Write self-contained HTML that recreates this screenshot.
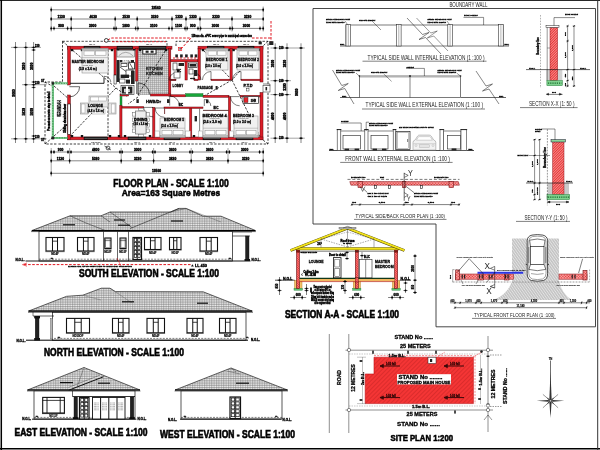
<!DOCTYPE html>
<html lang="en"><head><meta charset="utf-8"><title>House Plan Drawing Sheet</title>
<style>
html,body{margin:0;padding:0;background:#fff;width:600px;height:450px;overflow:hidden}
svg{display:block;will-change:transform;font-family:"Liberation Sans",sans-serif}
</style></head><body>
<svg width="600" height="450" viewBox="0 0 600 450">
<defs>
<pattern id="tile" width="2.4" height="1.8" patternUnits="userSpaceOnUse"><rect width="2.4" height="1.8" fill="#f0f0f0"/><path d="M0 0.4H2.4M0.6 0V1.8" stroke="#6a6a6a" stroke-width="0.45"/></pattern>
<pattern id="rh" width="1.6" height="1.6" patternUnits="userSpaceOnUse" patternTransform="rotate(45)"><rect width="1.6" height="1.6" fill="#ea3434"/><path d="M0 0.4H1.6" stroke="#f7a8a8" stroke-width="0.5"/></pattern>
<pattern id="sh" width="3" height="3" patternUnits="userSpaceOnUse" patternTransform="rotate(-45)"><rect width="3" height="3" fill="#f43535"/><path d="M0 0.5H3" stroke="#c92626" stroke-width="0.6"/></pattern>
<pattern id="xh" width="2" height="2" patternUnits="userSpaceOnUse" patternTransform="rotate(45)"><rect width="2" height="2" fill="#e62e2e"/><path d="M0 0.5H2M0.5 0V2" stroke="#fbd0d0" stroke-width="0.55"/></pattern>
<pattern id="rh2" width="1.8" height="1.8" patternUnits="userSpaceOnUse" patternTransform="rotate(-45)"><rect width="1.8" height="1.8" fill="#e83030"/><path d="M0 0.5H1.8" stroke="#fbc4c4" stroke-width="0.6"/></pattern>
<pattern id="gh" width="2.2" height="2.2" patternUnits="userSpaceOnUse" patternTransform="rotate(55)"><rect width="2.2" height="2.2" fill="#c2c2c2"/><path d="M0 0.5H2.2" stroke="#ececec" stroke-width="0.7"/></pattern>
<pattern id="kt" width="2" height="2" patternUnits="userSpaceOnUse"><rect width="2" height="2" fill="#d9d9d9"/><path d="M0 0.3H2M0.3 0V2" stroke="#8a8a8a" stroke-width="0.5"/></pattern>
</defs>
<rect width="600" height="450" fill="#fff"/>
<line x1="0" y1="0.45" x2="600" y2="0.45" stroke="#000" stroke-width="0.9"/>
<line x1="1.3" y1="0" x2="1.3" y2="450" stroke="#000" stroke-width="1.5"/>
<line x1="0" y1="448.7" x2="600" y2="448.7" stroke="#000" stroke-width="1.5"/>
<line x1="597.7" y1="0" x2="597.7" y2="450" stroke="#333" stroke-width="1"/>
<polygon points="313,8.5 595.5,8.5 595.5,326.8 436,326.8 436,224 313,224" fill="none" stroke="#333" stroke-width="0.9"/>
<line x1="51.2" y1="9.8" x2="263.2" y2="9.8" stroke="#222" stroke-width="0.55"/>
<line x1="51.2" y1="19" x2="263.2" y2="19" stroke="#222" stroke-width="0.55"/>
<line x1="51.2" y1="28.4" x2="263.2" y2="28.4" stroke="#222" stroke-width="0.55"/>
<line x1="51.2" y1="6.5" x2="51.2" y2="31.5" stroke="#333" stroke-width="0.45"/>
<circle cx="51.2" cy="9.8" r="0.95" fill="#000" stroke="none" stroke-width="0.6"/>
<line x1="51.2" y1="7.8" x2="51.2" y2="11.8" stroke="#000" stroke-width="0.6"/>
<circle cx="51.2" cy="19" r="0.95" fill="#000" stroke="none" stroke-width="0.6"/>
<line x1="51.2" y1="17" x2="51.2" y2="21" stroke="#000" stroke-width="0.6"/>
<circle cx="51.2" cy="28.4" r="0.95" fill="#000" stroke="none" stroke-width="0.6"/>
<line x1="51.2" y1="26.4" x2="51.2" y2="30.4" stroke="#000" stroke-width="0.6"/>
<line x1="263.2" y1="6.5" x2="263.2" y2="31.5" stroke="#333" stroke-width="0.45"/>
<circle cx="263.2" cy="9.8" r="0.95" fill="#000" stroke="none" stroke-width="0.6"/>
<line x1="263.2" y1="7.8" x2="263.2" y2="11.8" stroke="#000" stroke-width="0.6"/>
<circle cx="263.2" cy="19" r="0.95" fill="#000" stroke="none" stroke-width="0.6"/>
<line x1="263.2" y1="17" x2="263.2" y2="21" stroke="#000" stroke-width="0.6"/>
<circle cx="263.2" cy="28.4" r="0.95" fill="#000" stroke="none" stroke-width="0.6"/>
<line x1="263.2" y1="26.4" x2="263.2" y2="30.4" stroke="#000" stroke-width="0.6"/>
<text x="156" y="8.8" font-size="3.3" font-weight="bold" text-anchor="middle" stroke="#000" stroke-width="0.35">19560</text>
<line x1="71.2" y1="16" x2="71.2" y2="31.5" stroke="#333" stroke-width="0.45"/>
<circle cx="71.2" cy="19" r="0.95" fill="#000" stroke="none" stroke-width="0.6"/>
<line x1="71.2" y1="17" x2="71.2" y2="21" stroke="#000" stroke-width="0.6"/>
<line x1="115.2" y1="16" x2="115.2" y2="31.5" stroke="#333" stroke-width="0.45"/>
<circle cx="115.2" cy="19" r="0.95" fill="#000" stroke="none" stroke-width="0.6"/>
<line x1="115.2" y1="17" x2="115.2" y2="21" stroke="#000" stroke-width="0.6"/>
<line x1="137.2" y1="16" x2="137.2" y2="31.5" stroke="#333" stroke-width="0.45"/>
<circle cx="137.2" cy="19" r="0.95" fill="#000" stroke="none" stroke-width="0.6"/>
<line x1="137.2" y1="17" x2="137.2" y2="21" stroke="#000" stroke-width="0.6"/>
<line x1="172" y1="16" x2="172" y2="31.5" stroke="#333" stroke-width="0.45"/>
<circle cx="172" cy="19" r="0.95" fill="#000" stroke="none" stroke-width="0.6"/>
<line x1="172" y1="17" x2="172" y2="21" stroke="#000" stroke-width="0.6"/>
<line x1="186" y1="16" x2="186" y2="31.5" stroke="#333" stroke-width="0.45"/>
<circle cx="186" cy="19" r="0.95" fill="#000" stroke="none" stroke-width="0.6"/>
<line x1="186" y1="17" x2="186" y2="21" stroke="#000" stroke-width="0.6"/>
<line x1="200" y1="16" x2="200" y2="31.5" stroke="#333" stroke-width="0.45"/>
<circle cx="200" cy="19" r="0.95" fill="#000" stroke="none" stroke-width="0.6"/>
<line x1="200" y1="17" x2="200" y2="21" stroke="#000" stroke-width="0.6"/>
<line x1="232" y1="16" x2="232" y2="31.5" stroke="#333" stroke-width="0.45"/>
<circle cx="232" cy="19" r="0.95" fill="#000" stroke="none" stroke-width="0.6"/>
<line x1="232" y1="17" x2="232" y2="21" stroke="#000" stroke-width="0.6"/>
<text x="61.2" y="18" font-size="3.3" font-weight="bold" text-anchor="middle" stroke="#000" stroke-width="0.35">1130</text>
<text x="93.2" y="18" font-size="3.3" font-weight="bold" text-anchor="middle" stroke="#000" stroke-width="0.35">4630</text>
<text x="126.2" y="18" font-size="3.3" font-weight="bold" text-anchor="middle" stroke="#000" stroke-width="0.35">2530</text>
<text x="154.6" y="18" font-size="3.3" font-weight="bold" text-anchor="middle" stroke="#000" stroke-width="0.35">3330</text>
<text x="179" y="18" font-size="3.3" font-weight="bold" text-anchor="middle" stroke="#000" stroke-width="0.35">1330</text>
<text x="193" y="18" font-size="3.3" font-weight="bold" text-anchor="middle" stroke="#000" stroke-width="0.35">1330</text>
<text x="216" y="18" font-size="3.3" font-weight="bold" text-anchor="middle" stroke="#000" stroke-width="0.35">3230</text>
<text x="247.6" y="18" font-size="3.3" font-weight="bold" text-anchor="middle" stroke="#000" stroke-width="0.35">3230</text>
<circle cx="54" cy="28.4" r="0.95" fill="#000" stroke="none" stroke-width="0.6"/>
<line x1="54" y1="26.4" x2="54" y2="30.4" stroke="#000" stroke-width="0.6"/>
<circle cx="67.6" cy="28.4" r="0.95" fill="#000" stroke="none" stroke-width="0.6"/>
<line x1="67.6" y1="26.4" x2="67.6" y2="30.4" stroke="#000" stroke-width="0.6"/>
<circle cx="71.2" cy="28.4" r="0.95" fill="#000" stroke="none" stroke-width="0.6"/>
<line x1="71.2" y1="26.4" x2="71.2" y2="30.4" stroke="#000" stroke-width="0.6"/>
<circle cx="114" cy="28.4" r="0.95" fill="#000" stroke="none" stroke-width="0.6"/>
<line x1="114" y1="26.4" x2="114" y2="30.4" stroke="#000" stroke-width="0.6"/>
<circle cx="116.2" cy="28.4" r="0.95" fill="#000" stroke="none" stroke-width="0.6"/>
<line x1="116.2" y1="26.4" x2="116.2" y2="30.4" stroke="#000" stroke-width="0.6"/>
<circle cx="135.6" cy="28.4" r="0.95" fill="#000" stroke="none" stroke-width="0.6"/>
<line x1="135.6" y1="26.4" x2="135.6" y2="30.4" stroke="#000" stroke-width="0.6"/>
<circle cx="138" cy="28.4" r="0.95" fill="#000" stroke="none" stroke-width="0.6"/>
<line x1="138" y1="26.4" x2="138" y2="30.4" stroke="#000" stroke-width="0.6"/>
<circle cx="169" cy="28.4" r="0.95" fill="#000" stroke="none" stroke-width="0.6"/>
<line x1="169" y1="26.4" x2="169" y2="30.4" stroke="#000" stroke-width="0.6"/>
<circle cx="172" cy="28.4" r="0.95" fill="#000" stroke="none" stroke-width="0.6"/>
<line x1="172" y1="26.4" x2="172" y2="30.4" stroke="#000" stroke-width="0.6"/>
<circle cx="185" cy="28.4" r="0.95" fill="#000" stroke="none" stroke-width="0.6"/>
<line x1="185" y1="26.4" x2="185" y2="30.4" stroke="#000" stroke-width="0.6"/>
<circle cx="187.2" cy="28.4" r="0.95" fill="#000" stroke="none" stroke-width="0.6"/>
<line x1="187.2" y1="26.4" x2="187.2" y2="30.4" stroke="#000" stroke-width="0.6"/>
<circle cx="198" cy="28.4" r="0.95" fill="#000" stroke="none" stroke-width="0.6"/>
<line x1="198" y1="26.4" x2="198" y2="30.4" stroke="#000" stroke-width="0.6"/>
<circle cx="200.6" cy="28.4" r="0.95" fill="#000" stroke="none" stroke-width="0.6"/>
<line x1="200.6" y1="26.4" x2="200.6" y2="30.4" stroke="#000" stroke-width="0.6"/>
<circle cx="230" cy="28.4" r="0.95" fill="#000" stroke="none" stroke-width="0.6"/>
<line x1="230" y1="26.4" x2="230" y2="30.4" stroke="#000" stroke-width="0.6"/>
<circle cx="232.4" cy="28.4" r="0.95" fill="#000" stroke="none" stroke-width="0.6"/>
<line x1="232.4" y1="26.4" x2="232.4" y2="30.4" stroke="#000" stroke-width="0.6"/>
<circle cx="260" cy="28.4" r="0.95" fill="#000" stroke="none" stroke-width="0.6"/>
<line x1="260" y1="26.4" x2="260" y2="30.4" stroke="#000" stroke-width="0.6"/>
<text x="61" y="27.4" font-size="3.3" font-weight="bold" text-anchor="middle" stroke="#000" stroke-width="0.35">900</text>
<text x="92.6" y="27.4" font-size="3.3" font-weight="bold" text-anchor="middle" stroke="#000" stroke-width="0.35">3900</text>
<text x="126" y="27.4" font-size="3.3" font-weight="bold" text-anchor="middle" stroke="#000" stroke-width="0.35">1800</text>
<text x="153.6" y="27.4" font-size="3.3" font-weight="bold" text-anchor="middle" stroke="#000" stroke-width="0.35">3100</text>
<text x="178.6" y="27.4" font-size="3.3" font-weight="bold" text-anchor="middle" stroke="#000" stroke-width="0.35">1100</text>
<text x="192.8" y="27.4" font-size="3.3" font-weight="bold" text-anchor="middle" stroke="#000" stroke-width="0.35">900</text>
<text x="215.4" y="27.4" font-size="3.3" font-weight="bold" text-anchor="middle" stroke="#000" stroke-width="0.35">3000</text>
<text x="246.4" y="27.4" font-size="3.3" font-weight="bold" text-anchor="middle" stroke="#000" stroke-width="0.35">3000</text>
<line x1="51.2" y1="152" x2="263.2" y2="152" stroke="#222" stroke-width="0.55"/>
<line x1="51.2" y1="160.8" x2="263.2" y2="160.8" stroke="#222" stroke-width="0.55"/>
<line x1="51.2" y1="173.3" x2="263.2" y2="173.3" stroke="#222" stroke-width="0.55"/>
<line x1="51.2" y1="148" x2="51.2" y2="176.5" stroke="#333" stroke-width="0.45"/>
<circle cx="51.2" cy="152" r="0.95" fill="#000" stroke="none" stroke-width="0.6"/>
<line x1="51.2" y1="150" x2="51.2" y2="154" stroke="#000" stroke-width="0.6"/>
<circle cx="51.2" cy="160.8" r="0.95" fill="#000" stroke="none" stroke-width="0.6"/>
<line x1="51.2" y1="158.8" x2="51.2" y2="162.8" stroke="#000" stroke-width="0.6"/>
<circle cx="51.2" cy="173.3" r="0.95" fill="#000" stroke="none" stroke-width="0.6"/>
<line x1="51.2" y1="171.3" x2="51.2" y2="175.3" stroke="#000" stroke-width="0.6"/>
<line x1="263.2" y1="148" x2="263.2" y2="176.5" stroke="#333" stroke-width="0.45"/>
<circle cx="263.2" cy="152" r="0.95" fill="#000" stroke="none" stroke-width="0.6"/>
<line x1="263.2" y1="150" x2="263.2" y2="154" stroke="#000" stroke-width="0.6"/>
<circle cx="263.2" cy="160.8" r="0.95" fill="#000" stroke="none" stroke-width="0.6"/>
<line x1="263.2" y1="158.8" x2="263.2" y2="162.8" stroke="#000" stroke-width="0.6"/>
<circle cx="263.2" cy="173.3" r="0.95" fill="#000" stroke="none" stroke-width="0.6"/>
<line x1="263.2" y1="171.3" x2="263.2" y2="175.3" stroke="#000" stroke-width="0.6"/>
<circle cx="54" cy="152" r="0.95" fill="#000" stroke="none" stroke-width="0.6"/>
<line x1="54" y1="150" x2="54" y2="154" stroke="#000" stroke-width="0.6"/>
<circle cx="68" cy="152" r="0.95" fill="#000" stroke="none" stroke-width="0.6"/>
<line x1="68" y1="150" x2="68" y2="154" stroke="#000" stroke-width="0.6"/>
<circle cx="71" cy="152" r="0.95" fill="#000" stroke="none" stroke-width="0.6"/>
<line x1="71" y1="150" x2="71" y2="154" stroke="#000" stroke-width="0.6"/>
<circle cx="120" cy="152" r="0.95" fill="#000" stroke="none" stroke-width="0.6"/>
<line x1="120" y1="150" x2="120" y2="154" stroke="#000" stroke-width="0.6"/>
<circle cx="122.2" cy="152" r="0.95" fill="#000" stroke="none" stroke-width="0.6"/>
<line x1="122.2" y1="150" x2="122.2" y2="154" stroke="#000" stroke-width="0.6"/>
<circle cx="152.6" cy="152" r="0.95" fill="#000" stroke="none" stroke-width="0.6"/>
<line x1="152.6" y1="150" x2="152.6" y2="154" stroke="#000" stroke-width="0.6"/>
<circle cx="155" cy="152" r="0.95" fill="#000" stroke="none" stroke-width="0.6"/>
<line x1="155" y1="150" x2="155" y2="154" stroke="#000" stroke-width="0.6"/>
<circle cx="190" cy="152" r="0.95" fill="#000" stroke="none" stroke-width="0.6"/>
<line x1="190" y1="150" x2="190" y2="154" stroke="#000" stroke-width="0.6"/>
<circle cx="192.4" cy="152" r="0.95" fill="#000" stroke="none" stroke-width="0.6"/>
<line x1="192.4" y1="150" x2="192.4" y2="154" stroke="#000" stroke-width="0.6"/>
<circle cx="226.6" cy="152" r="0.95" fill="#000" stroke="none" stroke-width="0.6"/>
<line x1="226.6" y1="150" x2="226.6" y2="154" stroke="#000" stroke-width="0.6"/>
<circle cx="229.4" cy="152" r="0.95" fill="#000" stroke="none" stroke-width="0.6"/>
<line x1="229.4" y1="150" x2="229.4" y2="154" stroke="#000" stroke-width="0.6"/>
<circle cx="259.6" cy="152" r="0.95" fill="#000" stroke="none" stroke-width="0.6"/>
<line x1="259.6" y1="150" x2="259.6" y2="154" stroke="#000" stroke-width="0.6"/>
<text x="60.6" y="151" font-size="3.3" font-weight="bold" text-anchor="middle" stroke="#000" stroke-width="0.35">900</text>
<text x="95.6" y="151" font-size="3.3" font-weight="bold" text-anchor="middle" stroke="#000" stroke-width="0.35">4800</text>
<text x="137.6" y="151" font-size="3.3" font-weight="bold" text-anchor="middle" stroke="#000" stroke-width="0.35">3000</text>
<text x="172.6" y="151" font-size="3.3" font-weight="bold" text-anchor="middle" stroke="#000" stroke-width="0.35">3600</text>
<text x="209.6" y="151" font-size="3.3" font-weight="bold" text-anchor="middle" stroke="#000" stroke-width="0.35">3600</text>
<text x="244.6" y="151" font-size="3.3" font-weight="bold" text-anchor="middle" stroke="#000" stroke-width="0.35">3000</text>
<line x1="69.6" y1="148" x2="69.6" y2="164" stroke="#333" stroke-width="0.45"/>
<circle cx="69.6" cy="160.8" r="0.95" fill="#000" stroke="none" stroke-width="0.6"/>
<line x1="69.6" y1="158.8" x2="69.6" y2="162.8" stroke="#000" stroke-width="0.6"/>
<line x1="121.2" y1="148" x2="121.2" y2="164" stroke="#333" stroke-width="0.45"/>
<circle cx="121.2" cy="160.8" r="0.95" fill="#000" stroke="none" stroke-width="0.6"/>
<line x1="121.2" y1="158.8" x2="121.2" y2="162.8" stroke="#000" stroke-width="0.6"/>
<line x1="153.6" y1="148" x2="153.6" y2="164" stroke="#333" stroke-width="0.45"/>
<circle cx="153.6" cy="160.8" r="0.95" fill="#000" stroke="none" stroke-width="0.6"/>
<line x1="153.6" y1="158.8" x2="153.6" y2="162.8" stroke="#000" stroke-width="0.6"/>
<line x1="191.2" y1="148" x2="191.2" y2="164" stroke="#333" stroke-width="0.45"/>
<circle cx="191.2" cy="160.8" r="0.95" fill="#000" stroke="none" stroke-width="0.6"/>
<line x1="191.2" y1="158.8" x2="191.2" y2="162.8" stroke="#000" stroke-width="0.6"/>
<line x1="228" y1="148" x2="228" y2="164" stroke="#333" stroke-width="0.45"/>
<circle cx="228" cy="160.8" r="0.95" fill="#000" stroke="none" stroke-width="0.6"/>
<line x1="228" y1="158.8" x2="228" y2="162.8" stroke="#000" stroke-width="0.6"/>
<text x="60.4" y="159.8" font-size="3.3" font-weight="bold" text-anchor="middle" stroke="#000" stroke-width="0.35">1130</text>
<text x="95.6" y="159.8" font-size="3.3" font-weight="bold" text-anchor="middle" stroke="#000" stroke-width="0.35">5030</text>
<text x="137.6" y="159.8" font-size="3.3" font-weight="bold" text-anchor="middle" stroke="#000" stroke-width="0.35">3230</text>
<text x="172.6" y="159.8" font-size="3.3" font-weight="bold" text-anchor="middle" stroke="#000" stroke-width="0.35">3830</text>
<text x="209.6" y="159.8" font-size="3.3" font-weight="bold" text-anchor="middle" stroke="#000" stroke-width="0.35">3830</text>
<text x="245.6" y="159.8" font-size="3.3" font-weight="bold" text-anchor="middle" stroke="#000" stroke-width="0.35">3230</text>
<text x="156.5" y="172.3" font-size="3.3" font-weight="bold" text-anchor="middle" stroke="#000" stroke-width="0.35">19560</text>
<line x1="15.5" y1="42" x2="15.5" y2="143" stroke="#222" stroke-width="0.55"/>
<line x1="25.8" y1="42" x2="25.8" y2="143" stroke="#222" stroke-width="0.55"/>
<line x1="33.6" y1="42" x2="33.6" y2="143" stroke="#222" stroke-width="0.55"/>
<line x1="11" y1="47.4" x2="41" y2="47.4" stroke="#333" stroke-width="0.45"/>
<circle cx="15.5" cy="47.4" r="0.95" fill="#000" stroke="none" stroke-width="0.6"/>
<line x1="13.5" y1="47.4" x2="17.5" y2="47.4" stroke="#000" stroke-width="0.6"/>
<circle cx="25.8" cy="47.4" r="0.95" fill="#000" stroke="none" stroke-width="0.6"/>
<line x1="23.8" y1="47.4" x2="27.8" y2="47.4" stroke="#000" stroke-width="0.6"/>
<circle cx="33.6" cy="47.4" r="0.95" fill="#000" stroke="none" stroke-width="0.6"/>
<line x1="31.6" y1="47.4" x2="35.6" y2="47.4" stroke="#000" stroke-width="0.6"/>
<line x1="11" y1="138.8" x2="46.7" y2="138.8" stroke="#333" stroke-width="0.45"/>
<circle cx="15.5" cy="138.8" r="0.95" fill="#000" stroke="none" stroke-width="0.6"/>
<line x1="13.5" y1="138.8" x2="17.5" y2="138.8" stroke="#000" stroke-width="0.6"/>
<circle cx="25.8" cy="138.8" r="0.95" fill="#000" stroke="none" stroke-width="0.6"/>
<line x1="23.8" y1="138.8" x2="27.8" y2="138.8" stroke="#000" stroke-width="0.6"/>
<circle cx="33.6" cy="138.8" r="0.95" fill="#000" stroke="none" stroke-width="0.6"/>
<line x1="31.6" y1="138.8" x2="35.6" y2="138.8" stroke="#000" stroke-width="0.6"/>
<line x1="22" y1="84.7" x2="46.7" y2="84.7" stroke="#333" stroke-width="0.45"/>
<circle cx="25.8" cy="84.7" r="0.95" fill="#000" stroke="none" stroke-width="0.6"/>
<line x1="23.8" y1="84.7" x2="27.8" y2="84.7" stroke="#000" stroke-width="0.6"/>
<circle cx="33.6" cy="84.7" r="0.95" fill="#000" stroke="none" stroke-width="0.6"/>
<line x1="31.6" y1="84.7" x2="35.6" y2="84.7" stroke="#000" stroke-width="0.6"/>
<circle cx="33.6" cy="50" r="0.95" fill="#000" stroke="none" stroke-width="0.6"/>
<line x1="31.6" y1="50" x2="35.6" y2="50" stroke="#000" stroke-width="0.6"/>
<circle cx="33.6" cy="82" r="0.95" fill="#000" stroke="none" stroke-width="0.6"/>
<line x1="31.6" y1="82" x2="35.6" y2="82" stroke="#000" stroke-width="0.6"/>
<circle cx="33.6" cy="87.4" r="0.95" fill="#000" stroke="none" stroke-width="0.6"/>
<line x1="31.6" y1="87.4" x2="35.6" y2="87.4" stroke="#000" stroke-width="0.6"/>
<circle cx="33.6" cy="136" r="0.95" fill="#000" stroke="none" stroke-width="0.6"/>
<line x1="31.6" y1="136" x2="35.6" y2="136" stroke="#000" stroke-width="0.6"/>
<text x="14.6" y="93" font-size="3.3" font-weight="bold" text-anchor="middle" transform="rotate(-90 14.6 93)" stroke="#000" stroke-width="0.35">9660</text>
<text x="24.8" y="66.4" font-size="3.3" font-weight="bold" text-anchor="middle" transform="rotate(-90 24.8 66.4)" stroke="#000" stroke-width="0.35">3830</text>
<text x="24.8" y="111.8" font-size="3.3" font-weight="bold" text-anchor="middle" transform="rotate(-90 24.8 111.8)" stroke="#000" stroke-width="0.35">5830</text>
<text x="32.8" y="66.4" font-size="3.3" font-weight="bold" text-anchor="middle" transform="rotate(-90 32.8 66.4)" stroke="#000" stroke-width="0.35">3600</text>
<text x="32.8" y="111.8" font-size="3.3" font-weight="bold" text-anchor="middle" transform="rotate(-90 32.8 111.8)" stroke="#000" stroke-width="0.35">5600</text>
<text x="35" y="46.6" font-size="2.6" font-weight="bold" stroke="#000" stroke-width="0.3">230</text>
<text x="35" y="84" font-size="2.6" font-weight="bold" stroke="#000" stroke-width="0.3">230</text>
<text x="35" y="138" font-size="2.6" font-weight="bold" stroke="#000" stroke-width="0.3">230</text>
<line x1="275.2" y1="43.3" x2="275.2" y2="143" stroke="#222" stroke-width="0.55"/>
<line x1="287" y1="43.3" x2="287" y2="143" stroke="#222" stroke-width="0.55"/>
<line x1="301" y1="43.3" x2="301" y2="143" stroke="#222" stroke-width="0.55"/>
<line x1="270.5" y1="48" x2="304.8" y2="48" stroke="#333" stroke-width="0.45"/>
<circle cx="275.2" cy="48" r="0.95" fill="#000" stroke="none" stroke-width="0.6"/>
<line x1="273.2" y1="48" x2="277.2" y2="48" stroke="#000" stroke-width="0.6"/>
<circle cx="287" cy="48" r="0.95" fill="#000" stroke="none" stroke-width="0.6"/>
<line x1="285" y1="48" x2="289" y2="48" stroke="#000" stroke-width="0.6"/>
<circle cx="301" cy="48" r="0.95" fill="#000" stroke="none" stroke-width="0.6"/>
<line x1="299" y1="48" x2="303" y2="48" stroke="#000" stroke-width="0.6"/>
<line x1="270.5" y1="138.2" x2="304.8" y2="138.2" stroke="#333" stroke-width="0.45"/>
<circle cx="275.2" cy="138.2" r="0.95" fill="#000" stroke="none" stroke-width="0.6"/>
<line x1="273.2" y1="138.2" x2="277.2" y2="138.2" stroke="#000" stroke-width="0.6"/>
<circle cx="287" cy="138.2" r="0.95" fill="#000" stroke="none" stroke-width="0.6"/>
<line x1="285" y1="138.2" x2="289" y2="138.2" stroke="#000" stroke-width="0.6"/>
<circle cx="301" cy="138.2" r="0.95" fill="#000" stroke="none" stroke-width="0.6"/>
<line x1="299" y1="138.2" x2="303" y2="138.2" stroke="#000" stroke-width="0.6"/>
<line x1="270.5" y1="80.7" x2="291" y2="80.7" stroke="#333" stroke-width="0.45"/>
<circle cx="275.2" cy="80.7" r="0.95" fill="#000" stroke="none" stroke-width="0.6"/>
<line x1="273.2" y1="80.7" x2="277.2" y2="80.7" stroke="#000" stroke-width="0.6"/>
<circle cx="287" cy="80.7" r="0.95" fill="#000" stroke="none" stroke-width="0.6"/>
<line x1="285" y1="80.7" x2="289" y2="80.7" stroke="#000" stroke-width="0.6"/>
<line x1="270.5" y1="94.6" x2="291" y2="94.6" stroke="#333" stroke-width="0.45"/>
<circle cx="275.2" cy="94.6" r="0.95" fill="#000" stroke="none" stroke-width="0.6"/>
<line x1="273.2" y1="94.6" x2="277.2" y2="94.6" stroke="#000" stroke-width="0.6"/>
<circle cx="287" cy="94.6" r="0.95" fill="#000" stroke="none" stroke-width="0.6"/>
<line x1="285" y1="94.6" x2="289" y2="94.6" stroke="#000" stroke-width="0.6"/>
<text x="274.2" y="63.6" font-size="3.3" font-weight="bold" text-anchor="middle" transform="rotate(-90 274.2 63.6)" stroke="#000" stroke-width="0.35">3600</text>
<text x="286.2" y="63.6" font-size="3.3" font-weight="bold" text-anchor="middle" transform="rotate(-90 286.2 63.6)" stroke="#000" stroke-width="0.35">3830</text>
<text x="274.2" y="116.4" font-size="3.3" font-weight="bold" text-anchor="middle" transform="rotate(-90 274.2 116.4)" stroke="#000" stroke-width="0.35">4800</text>
<text x="286.2" y="116.4" font-size="3.3" font-weight="bold" text-anchor="middle" transform="rotate(-90 286.2 116.4)" stroke="#000" stroke-width="0.35">4800</text>
<text x="286.2" y="87" font-size="3.3" font-weight="bold" text-anchor="middle" transform="rotate(-90 286.2 87)" stroke="#000" stroke-width="0.35">1200</text>
<text x="298.4" y="92.2" font-size="3.3" font-weight="bold" text-anchor="middle" transform="rotate(-90 298.4 92.2)" stroke="#000" stroke-width="0.35">9660</text>
<text x="279" y="49" font-size="2.6" font-weight="bold" stroke="#000" stroke-width="0.3">230</text>
<text x="279" y="81.7" font-size="2.6" font-weight="bold" stroke="#000" stroke-width="0.3">230</text>
<text x="279" y="95.6" font-size="2.6" font-weight="bold" stroke="#000" stroke-width="0.3">230</text>
<text x="279" y="139.2" font-size="2.6" font-weight="bold" stroke="#000" stroke-width="0.3">230</text>
<polyline points="62.5,41.3 167,41.3 167,46" fill="none" stroke="#000" stroke-width="0.7" stroke-dasharray="2.4 1.4"/>
<polyline points="176,46 176,41.3 268,41.3 268,144 57,144" fill="none" stroke="#000" stroke-width="0.75" stroke-dasharray="2.4 1.4"/>
<polyline points="62.5,41.3 62.5,82 45,82 45,144 57,144" fill="none" stroke="#000" stroke-width="0.75" stroke-dasharray="2.4 1.4"/>
<line x1="62.5" y1="41.3" x2="68" y2="46" stroke="#000" stroke-width="0.75" stroke-dasharray="2.4 1.4"/>
<line x1="268" y1="41.3" x2="263" y2="46" stroke="#000" stroke-width="0.75" stroke-dasharray="2.4 1.4"/>
<line x1="268" y1="144" x2="263" y2="140" stroke="#000" stroke-width="0.75" stroke-dasharray="2.4 1.4"/>
<line x1="45" y1="144" x2="52" y2="138" stroke="#000" stroke-width="0.75" stroke-dasharray="2.4 1.4"/>
<line x1="45" y1="82" x2="52" y2="86" stroke="#000" stroke-width="0.75" stroke-dasharray="2.4 1.4"/>
<line x1="70" y1="48" x2="116" y2="88" stroke="#000" stroke-width="0.75" stroke-dasharray="2.4 1.4"/>
<line x1="116" y1="88" x2="70" y2="136" stroke="#000" stroke-width="0.75" stroke-dasharray="2.4 1.4"/>
<line x1="54" y1="86" x2="70" y2="100" stroke="#000" stroke-width="0.75" stroke-dasharray="2.4 1.4"/>
<line x1="54" y1="136" x2="70" y2="122" stroke="#000" stroke-width="0.75" stroke-dasharray="2.4 1.4"/>
<line x1="108" y1="46" x2="108" y2="138" stroke="#000" stroke-width="0.75" stroke-dasharray="2.4 1.4"/>
<line x1="116" y1="88" x2="128" y2="97" stroke="#000" stroke-width="0.75" stroke-dasharray="2.4 1.4"/>
<line x1="167" y1="48" x2="138" y2="97" stroke="#000" stroke-width="0.75" stroke-dasharray="2.4 1.4"/>
<line x1="138" y1="97" x2="128" y2="104" stroke="#000" stroke-width="0.75" stroke-dasharray="2.4 1.4"/>
<line x1="201" y1="48" x2="232" y2="80" stroke="#000" stroke-width="0.75" stroke-dasharray="2.4 1.4"/>
<line x1="232" y1="80" x2="260" y2="137" stroke="#000" stroke-width="0.75" stroke-dasharray="2.4 1.4"/>
<line x1="260" y1="48" x2="232" y2="80" stroke="#000" stroke-width="0.75" stroke-dasharray="2.4 1.4"/>
<line x1="232" y1="80" x2="204" y2="96" stroke="#000" stroke-width="0.75" stroke-dasharray="2.4 1.4"/>
<rect x="138" y="48" width="31.5" height="47" fill="url(#kt)" stroke="none" stroke-width="0.7"/>
<line x1="138" y1="95" x2="167" y2="48" stroke="#000" stroke-width="0.75" stroke-dasharray="2.4 1.4"/>
<rect x="67.6" y="46.2" width="104.4" height="3" fill="#dc1e28" stroke="#5c0a0e" stroke-width="0.5"/>
<rect x="198" y="46.2" width="65" height="3" fill="#dc1e28" stroke="#5c0a0e" stroke-width="0.5"/>
<rect x="260" y="46.2" width="3" height="35.8" fill="#dc1e28" stroke="#5c0a0e" stroke-width="0.5"/>
<rect x="260" y="92.5" width="3" height="47.3" fill="#dc1e28" stroke="#5c0a0e" stroke-width="0.5"/>
<rect x="67.6" y="137" width="195.4" height="2.8" fill="#dc1e28" stroke="#5c0a0e" stroke-width="0.5"/>
<rect x="67.6" y="46.2" width="2.8" height="38.8" fill="#dc1e28" stroke="#5c0a0e" stroke-width="0.5"/>
<rect x="67.6" y="95" width="2.8" height="44.8" fill="#dc1e28" stroke="#5c0a0e" stroke-width="0.5"/>
<rect x="114" y="48.5" width="2.2" height="26.5" fill="#dc1e28" stroke="#5c0a0e" stroke-width="0.5"/>
<rect x="114" y="75" width="2.2" height="9" fill="#fff" stroke="#111" stroke-width="0.55"/>
<rect x="135.6" y="48.5" width="2.3" height="32.5" fill="#dc1e28" stroke="#5c0a0e" stroke-width="0.5"/>
<line x1="136.8" y1="81" x2="136.8" y2="94" stroke="#222" stroke-width="0.8"/>
<rect x="168.6" y="48.5" width="2.2" height="47.5" fill="#dc1e28" stroke="#5c0a0e" stroke-width="0.5"/>
<rect x="170.8" y="59.6" width="27.2" height="2.2" fill="#dc1e28" stroke="#5c0a0e" stroke-width="0.5"/>
<rect x="185" y="61.8" width="2.2" height="18.2" fill="#dc1e28" stroke="#5c0a0e" stroke-width="0.5"/>
<rect x="198" y="48.5" width="2.3" height="31.5" fill="#dc1e28" stroke="#5c0a0e" stroke-width="0.5"/>
<rect x="230" y="48.5" width="2.2" height="31.5" fill="#dc1e28" stroke="#5c0a0e" stroke-width="0.5"/>
<rect x="150.5" y="94" width="20.3" height="2" fill="#dc1e28" stroke="#5c0a0e" stroke-width="0.5"/>
<rect x="120" y="94" width="8.7" height="2" fill="#dc1e28" stroke="#5c0a0e" stroke-width="0.5"/>
<rect x="170.8" y="94.8" width="14.9" height="2" fill="#dc1e28" stroke="#5c0a0e" stroke-width="0.5"/>
<rect x="203" y="95.3" width="26" height="2" fill="#dc1e28" stroke="#5c0a0e" stroke-width="0.5"/>
<rect x="240.3" y="95.3" width="20.2" height="1.7" fill="#dc1e28" stroke="#5c0a0e" stroke-width="0.5"/>
<rect x="185.7" y="93.6" width="17.3" height="3" fill="#19a63a" stroke="#0c5b1e" stroke-width="0.4"/>
<rect x="120" y="96.4" width="2" height="9.2" fill="#19a63a" stroke="#0c5b1e" stroke-width="0.4"/>
<rect x="211" y="79.2" width="19" height="1.4" fill="#dc1e28" stroke="#5c0a0e" stroke-width="0.5"/>
<rect x="241" y="79.2" width="19.5" height="1.4" fill="#dc1e28" stroke="#5c0a0e" stroke-width="0.5"/>
<rect x="170.8" y="79.2" width="5.2" height="1.4" fill="#dc1e28" stroke="#5c0a0e" stroke-width="0.5"/>
<rect x="194" y="79.2" width="4" height="1.4" fill="#dc1e28" stroke="#5c0a0e" stroke-width="0.5"/>
<rect x="119.8" y="105.6" width="2.2" height="31.9" fill="#dc1e28" stroke="#5c0a0e" stroke-width="0.5"/>
<rect x="152.7" y="107.4" width="2.2" height="30.1" fill="#dc1e28" stroke="#5c0a0e" stroke-width="0.5"/>
<rect x="189.6" y="107.4" width="2.2" height="30.1" fill="#dc1e28" stroke="#5c0a0e" stroke-width="0.5"/>
<rect x="228.4" y="96.6" width="2.2" height="40.9" fill="#dc1e28" stroke="#5c0a0e" stroke-width="0.5"/>
<rect x="164" y="107" width="39" height="1.4" fill="#dc1e28" stroke="#5c0a0e" stroke-width="0.5"/>
<line x1="203" y1="110.4" x2="228.4" y2="110.4" stroke="#3a0a0a" stroke-width="0.8"/>
<rect x="122" y="106.6" width="21.7" height="1.5" fill="#dc1e28" stroke="#5c0a0e" stroke-width="0.5"/>
<line x1="164.6" y1="108.7" x2="164.6" y2="114" stroke="#5c0a0e" stroke-width="0.8"/>
<line x1="199.6" y1="108.7" x2="199.6" y2="137" stroke="#000" stroke-width="0.5"/>
<line x1="70" y1="83.3" x2="104" y2="83.3" stroke="#222" stroke-width="1"/>
<line x1="104" y1="83.3" x2="104" y2="78" stroke="#000" stroke-width="0.5"/>
<rect x="84" y="46.2" width="16" height="3" fill="#1c1c1c" stroke="#000" stroke-width="0.5"/>
<line x1="84.5" y1="47.7" x2="99.5" y2="47.7" stroke="#9a9a9a" stroke-width="0.45"/>
<rect x="139" y="46.2" width="27" height="3" fill="#1c1c1c" stroke="#000" stroke-width="0.5"/>
<line x1="139.5" y1="47.7" x2="165.5" y2="47.7" stroke="#9a9a9a" stroke-width="0.45"/>
<rect x="207.5" y="46.2" width="16.5" height="3" fill="#1c1c1c" stroke="#000" stroke-width="0.5"/>
<line x1="208" y1="47.7" x2="223.5" y2="47.7" stroke="#9a9a9a" stroke-width="0.45"/>
<rect x="238" y="46.2" width="16" height="3" fill="#1c1c1c" stroke="#000" stroke-width="0.5"/>
<line x1="238.5" y1="47.7" x2="253.5" y2="47.7" stroke="#9a9a9a" stroke-width="0.45"/>
<rect x="84" y="137" width="23.5" height="2.8" fill="#1c1c1c" stroke="#000" stroke-width="0.5"/>
<line x1="84.5" y1="138.4" x2="107" y2="138.4" stroke="#9a9a9a" stroke-width="0.45"/>
<rect x="128" y="137" width="18" height="2.8" fill="#1c1c1c" stroke="#000" stroke-width="0.5"/>
<line x1="128.5" y1="138.4" x2="145.5" y2="138.4" stroke="#9a9a9a" stroke-width="0.45"/>
<rect x="164" y="137" width="16" height="2.8" fill="#1c1c1c" stroke="#000" stroke-width="0.5"/>
<line x1="164.5" y1="138.4" x2="179.5" y2="138.4" stroke="#9a9a9a" stroke-width="0.45"/>
<rect x="203" y="137" width="17.5" height="2.8" fill="#1c1c1c" stroke="#000" stroke-width="0.5"/>
<line x1="203.5" y1="138.4" x2="220" y2="138.4" stroke="#9a9a9a" stroke-width="0.45"/>
<rect x="236" y="137" width="17" height="2.8" fill="#1c1c1c" stroke="#000" stroke-width="0.5"/>
<line x1="236.5" y1="138.4" x2="252.5" y2="138.4" stroke="#9a9a9a" stroke-width="0.45"/>
<rect x="67.8" y="104" width="2.6" height="30.4" fill="#fff" stroke="#111" stroke-width="0.6"/>
<rect x="117" y="46.2" width="15.7" height="3" fill="#1c1c1c" stroke="#000" stroke-width="0.5"/>
<line x1="117.5" y1="47.7" x2="132.2" y2="47.7" stroke="#9a9a9a" stroke-width="0.45"/>
<rect x="70.8" y="49" width="2.4" height="2.2" fill="#111" stroke="none" stroke-width="0.7"/>
<rect x="80.8" y="49" width="2.4" height="2.2" fill="#111" stroke="none" stroke-width="0.7"/>
<rect x="100.8" y="49" width="2.4" height="2.2" fill="#111" stroke="none" stroke-width="0.7"/>
<rect x="110.8" y="49" width="2.4" height="2.2" fill="#111" stroke="none" stroke-width="0.7"/>
<rect x="116.8" y="49" width="2.4" height="2.2" fill="#111" stroke="none" stroke-width="0.7"/>
<rect x="132.8" y="49" width="2.4" height="2.2" fill="#111" stroke="none" stroke-width="0.7"/>
<rect x="138.8" y="49" width="2.4" height="2.2" fill="#111" stroke="none" stroke-width="0.7"/>
<rect x="164.8" y="49" width="2.4" height="2.2" fill="#111" stroke="none" stroke-width="0.7"/>
<rect x="201.8" y="49" width="2.4" height="2.2" fill="#111" stroke="none" stroke-width="0.7"/>
<rect x="227.4" y="49" width="2.4" height="2.2" fill="#111" stroke="none" stroke-width="0.7"/>
<rect x="232.4" y="49" width="2.4" height="2.2" fill="#111" stroke="none" stroke-width="0.7"/>
<rect x="257.4" y="49" width="2.4" height="2.2" fill="#111" stroke="none" stroke-width="0.7"/>
<rect x="70.8" y="135" width="2.4" height="2.2" fill="#111" stroke="none" stroke-width="0.7"/>
<rect x="80.8" y="135" width="2.4" height="2.2" fill="#111" stroke="none" stroke-width="0.7"/>
<rect x="108.8" y="135" width="2.4" height="2.2" fill="#111" stroke="none" stroke-width="0.7"/>
<rect x="117.8" y="135" width="2.4" height="2.2" fill="#111" stroke="none" stroke-width="0.7"/>
<rect x="123.8" y="135" width="2.4" height="2.2" fill="#111" stroke="none" stroke-width="0.7"/>
<rect x="148.8" y="135" width="2.4" height="2.2" fill="#111" stroke="none" stroke-width="0.7"/>
<rect x="155.8" y="135" width="2.4" height="2.2" fill="#111" stroke="none" stroke-width="0.7"/>
<rect x="185.8" y="135" width="2.4" height="2.2" fill="#111" stroke="none" stroke-width="0.7"/>
<rect x="192.8" y="135" width="2.4" height="2.2" fill="#111" stroke="none" stroke-width="0.7"/>
<rect x="224.8" y="135" width="2.4" height="2.2" fill="#111" stroke="none" stroke-width="0.7"/>
<rect x="231.8" y="135" width="2.4" height="2.2" fill="#111" stroke="none" stroke-width="0.7"/>
<rect x="255.8" y="135" width="2.4" height="2.2" fill="#111" stroke="none" stroke-width="0.7"/>
<text x="92" y="45" font-size="2.4" text-anchor="middle">ND4F</text>
<text x="149" y="45" font-size="2.4" text-anchor="middle">ND4F</text>
<text x="216" y="45" font-size="2.4" text-anchor="middle">ND4F</text>
<text x="246" y="45" font-size="2.4" text-anchor="middle">ND4F</text>
<text x="96" y="143.2" font-size="2.4" text-anchor="middle">ND1OOF</text>
<text x="137" y="143.2" font-size="2.4" text-anchor="middle">ND4F</text>
<text x="172" y="143.2" font-size="2.4" text-anchor="middle">ND4F</text>
<text x="212" y="143.2" font-size="2.4" text-anchor="middle">ND4F</text>
<text x="244.5" y="143.2" font-size="2.4" text-anchor="middle">ND4F</text>
<polyline points="67.6,83.4 52.8,83.4 52.8,137.9 67.6,137.9" fill="none" stroke="#16a23a" stroke-width="1.9"/>
<polyline points="67.6,83.4 52.8,83.4 52.8,137.9 67.6,137.9" fill="none" stroke="#eafbea" stroke-width="0.7"/>
<polyline points="67.6,83.4 52.8,83.4 52.8,137.9 67.6,137.9" fill="none" stroke="#0a4a18" stroke-width="0.5" stroke-dasharray="1.4 1.2"/>
<rect x="51.4" y="136.6" width="2.8" height="2.8" fill="#222" stroke="none" stroke-width="0.7"/>
<rect x="51.6" y="82.2" width="2.4" height="2.4" fill="#222" stroke="none" stroke-width="0.7"/>
<text x="60.6" y="108.8" font-size="5.6" font-weight="bold" text-anchor="middle" transform="rotate(-90 60.6 108.8)" textLength="16.6" lengthAdjust="spacingAndGlyphs" stroke="#000" stroke-width="0.3">VERANDAH</text>
<text x="50" y="111.3" font-size="3.5" font-weight="bold" text-anchor="middle" transform="rotate(-90 50 111.3)" textLength="39.4" lengthAdjust="spacingAndGlyphs" stroke="#000" stroke-width="0.45">Precast concrete step to detail</text>
<text x="66.3" y="118.3" font-size="3.5" font-weight="bold" text-anchor="middle" transform="rotate(-90 66.3 118.3)" textLength="28.7" lengthAdjust="spacingAndGlyphs" stroke="#000" stroke-width="0.45">Sliding aluminium door</text>
<text x="41" y="82.4" font-size="2.8" font-weight="bold" stroke="#000" stroke-width="0.28">ST</text>
<text x="41" y="140.6" font-size="2.8" font-weight="bold" stroke="#000" stroke-width="0.28">ST</text>
<path d="M69.4 86.7L79.6 86.7A10.2 10.2 0 0 1 69.4 96.9" fill="none" stroke="#000" stroke-width="0.6"/>
<path d="M104 83.3L104 76.3A7 7 0 0 1 110.89 82.08" fill="none" stroke="#000" stroke-width="0.5"/>
<path d="M138 94.4L138 82.9A11.5 11.5 0 0 1 149.5 94.4" fill="none" stroke="#000" stroke-width="0.6"/>
<path d="M176 80L169 80A7 7 0 0 1 176 73" fill="none" stroke="#000" stroke-width="0.5"/>
<path d="M194 80L194 73A7 7 0 0 1 201 80" fill="none" stroke="#000" stroke-width="0.5"/>
<path d="M211 80L211 71.5A8.5 8.5 0 0 0 202.5 80" fill="none" stroke="#000" stroke-width="0.5"/>
<path d="M241 80L241 71.5A8.5 8.5 0 0 0 232.5 80" fill="none" stroke="#000" stroke-width="0.5"/>
<path d="M239.7 96.6L230.5 96.6A9.2 9.2 0 0 0 239.7 105.8" fill="none" stroke="#000" stroke-width="0.5"/>
<path d="M204.3 106L204.3 99.5A6.5 6.5 0 0 1 210.8 106" fill="none" stroke="#000" stroke-width="0.5"/>
<path d="M153.2 107.4L143.7 107.4A9.5 9.5 0 0 0 153.2 116.9" fill="none" stroke="#000" stroke-width="0.5"/>
<path d="M164.5 108L155.2 108A9.3 9.3 0 0 0 164.5 117.3" fill="none" stroke="#000" stroke-width="0.5"/>
<path d="M169.7 105.7L169.7 96A9.7 9.7 0 0 1 179.4 105.7" fill="none" stroke="#000" stroke-width="0.5"/>
<path d="M263 84L270 84A7 7 0 0 1 263 91" fill="none" stroke="#000" stroke-width="0.5"/>
<rect x="82" y="48.6" width="26" height="24.4" fill="#f1f1f1" stroke="#8c8c8c" stroke-width="0.55"/>
<rect x="82" y="48.6" width="26" height="1.6" fill="#bbb" stroke="#8c8c8c" stroke-width="0.4"/>
<rect x="84" y="51" width="10.4" height="4.2" fill="#fff" stroke="#8c8c8c" stroke-width="0.5"/>
<rect x="95.6" y="51" width="10.4" height="4.2" fill="#fff" stroke="#8c8c8c" stroke-width="0.5"/>
<line x1="82" y1="57.6" x2="108" y2="57.6" stroke="#8c8c8c" stroke-width="0.45"/>
<rect x="206" y="48.6" width="22" height="21.4" fill="#f1f1f1" stroke="#8c8c8c" stroke-width="0.55"/>
<rect x="206" y="48.6" width="22" height="1.6" fill="#bbb" stroke="#8c8c8c" stroke-width="0.4"/>
<rect x="208" y="51" width="8.4" height="4.2" fill="#fff" stroke="#8c8c8c" stroke-width="0.5"/>
<rect x="217.6" y="51" width="8.4" height="4.2" fill="#fff" stroke="#8c8c8c" stroke-width="0.5"/>
<line x1="206" y1="57.6" x2="228" y2="57.6" stroke="#8c8c8c" stroke-width="0.45"/>
<rect x="237" y="48.6" width="22" height="21.4" fill="#f1f1f1" stroke="#8c8c8c" stroke-width="0.55"/>
<rect x="237" y="48.6" width="22" height="1.6" fill="#bbb" stroke="#8c8c8c" stroke-width="0.4"/>
<rect x="239" y="51" width="8.4" height="4.2" fill="#fff" stroke="#8c8c8c" stroke-width="0.5"/>
<rect x="248.6" y="51" width="8.4" height="4.2" fill="#fff" stroke="#8c8c8c" stroke-width="0.5"/>
<line x1="237" y1="57.6" x2="259" y2="57.6" stroke="#8c8c8c" stroke-width="0.45"/>
<rect x="160" y="118" width="25" height="19.2" fill="#f1f1f1" stroke="#8c8c8c" stroke-width="0.55"/>
<rect x="160" y="135.6" width="25" height="1.6" fill="#bbb" stroke="#8c8c8c" stroke-width="0.4"/>
<rect x="162" y="130.6" width="9.9" height="4.2" fill="#fff" stroke="#8c8c8c" stroke-width="0.5"/>
<rect x="173.1" y="130.6" width="9.9" height="4.2" fill="#fff" stroke="#8c8c8c" stroke-width="0.5"/>
<line x1="160" y1="128.2" x2="185" y2="128.2" stroke="#8c8c8c" stroke-width="0.45"/>
<rect x="203" y="116" width="25" height="21.2" fill="#f1f1f1" stroke="#8c8c8c" stroke-width="0.55"/>
<rect x="203" y="135.6" width="25" height="1.6" fill="#bbb" stroke="#8c8c8c" stroke-width="0.4"/>
<rect x="205" y="130.6" width="9.9" height="4.2" fill="#fff" stroke="#8c8c8c" stroke-width="0.5"/>
<rect x="216.1" y="130.6" width="9.9" height="4.2" fill="#fff" stroke="#8c8c8c" stroke-width="0.5"/>
<line x1="203" y1="128.2" x2="228" y2="128.2" stroke="#8c8c8c" stroke-width="0.45"/>
<rect x="234" y="116" width="24" height="21.2" fill="#f1f1f1" stroke="#8c8c8c" stroke-width="0.55"/>
<rect x="234" y="135.6" width="24" height="1.6" fill="#bbb" stroke="#8c8c8c" stroke-width="0.4"/>
<rect x="236" y="130.6" width="9.4" height="4.2" fill="#fff" stroke="#8c8c8c" stroke-width="0.5"/>
<rect x="246.6" y="130.6" width="9.4" height="4.2" fill="#fff" stroke="#8c8c8c" stroke-width="0.5"/>
<line x1="234" y1="128.2" x2="258" y2="128.2" stroke="#8c8c8c" stroke-width="0.45"/>
<rect x="155" y="131" width="4.4" height="6" fill="#fff" stroke="#8c8c8c" stroke-width="0.45"/>
<rect x="185.6" y="131" width="4.8" height="6" fill="#fff" stroke="#8c8c8c" stroke-width="0.45"/>
<rect x="198.6" y="131" width="3.8" height="6" fill="#fff" stroke="#8c8c8c" stroke-width="0.45"/>
<rect x="229.4" y="131" width="4" height="6" fill="#fff" stroke="#8c8c8c" stroke-width="0.45"/>
<rect x="89" y="96" width="19" height="11" fill="#e6e6e6" stroke="#8c8c8c" stroke-width="0.55"/>
<rect x="90.5" y="97" width="16" height="4" fill="#fff" stroke="#8c8c8c" stroke-width="0.45"/>
<line x1="98.5" y1="97" x2="98.5" y2="101" stroke="#8c8c8c" stroke-width="0.4"/>
<rect x="80.5" y="103" width="7.5" height="11" fill="#e6e6e6" stroke="#8c8c8c" stroke-width="0.55"/>
<rect x="81.5" y="104" width="3.5" height="9" fill="#fff" stroke="#8c8c8c" stroke-width="0.4"/>
<rect x="108.6" y="103" width="7.4" height="11" fill="#e6e6e6" stroke="#8c8c8c" stroke-width="0.55"/>
<rect x="111.6" y="104" width="3.4" height="9" fill="#fff" stroke="#8c8c8c" stroke-width="0.4"/>
<rect x="92" y="109" width="13" height="5" fill="#fff" stroke="#8c8c8c" stroke-width="0.45"/>
<rect x="135.6" y="111" width="10.4" height="23" fill="#eee" stroke="#555" stroke-width="0.55"/>
<rect x="132.4" y="112.5" width="2.8" height="3.6" fill="#fff" stroke="#555" stroke-width="0.45"/>
<rect x="146.4" y="112.5" width="2.8" height="3.6" fill="#fff" stroke="#555" stroke-width="0.45"/>
<rect x="132.4" y="118" width="2.8" height="3.6" fill="#fff" stroke="#555" stroke-width="0.45"/>
<rect x="146.4" y="118" width="2.8" height="3.6" fill="#fff" stroke="#555" stroke-width="0.45"/>
<rect x="132.4" y="123.5" width="2.8" height="3.6" fill="#fff" stroke="#555" stroke-width="0.45"/>
<rect x="146.4" y="123.5" width="2.8" height="3.6" fill="#fff" stroke="#555" stroke-width="0.45"/>
<rect x="132.4" y="129" width="2.8" height="3.6" fill="#fff" stroke="#555" stroke-width="0.45"/>
<rect x="146.4" y="129" width="2.8" height="3.6" fill="#fff" stroke="#555" stroke-width="0.45"/>
<rect x="138.4" y="108.2" width="5" height="2.4" fill="#fff" stroke="#555" stroke-width="0.45"/>
<rect x="138.4" y="134.4" width="5" height="2.4" fill="#fff" stroke="#555" stroke-width="0.45"/>
<rect x="117" y="50.4" width="17.6" height="6.6" fill="#e9e9e9" stroke="#555" stroke-width="0.55"/>
<path d="M118.6 55.8q7.2-7 14.4 0" fill="none" stroke="#666" stroke-width="0.5"/>
<rect x="116.6" y="60" width="3" height="22" fill="#222" stroke="none" stroke-width="0.7"/>
<rect x="120" y="60" width="14" height="2.4" fill="#222" stroke="none" stroke-width="0.7"/>
<rect x="121" y="63.4" width="6" height="3" fill="#fff" stroke="#222" stroke-width="0.7"/>
<rect x="128.6" y="62.6" width="6" height="6.4" fill="#fff" stroke="#222" stroke-width="0.8"/>
<path d="M120 67l8 6M128 60l5 9" fill="none" stroke="#222" stroke-width="0.7"/>
<rect x="126" y="70" width="7" height="6" fill="#fff" stroke="#222" stroke-width="0.7"/>
<rect x="120.6" y="74.6" width="8.4" height="3.4" fill="#222" stroke="none" stroke-width="0.7"/>
<rect x="131" y="70.6" width="3.6" height="13.4" fill="#222" stroke="none" stroke-width="0.7"/>
<rect x="119.6" y="79" width="5.4" height="4" fill="#fff" stroke="#222" stroke-width="0.6"/>
<rect x="126" y="79.6" width="4" height="4" fill="#222" stroke="none" stroke-width="0.7"/>
<text x="126.6" y="61.8" font-size="3" font-weight="bold" text-anchor="middle" fill="#fff" stroke="#fff" stroke-width="0.28">BATH</text>
<rect x="121" y="85.4" width="13" height="9.2" fill="#fff" stroke="#222" stroke-width="0.6"/>
<rect x="122" y="86.6" width="4" height="7" fill="#222" stroke="none" stroke-width="0.7"/>
<rect x="128" y="86.6" width="4.4" height="7" fill="#222" stroke="none" stroke-width="0.7"/>
<text x="127" y="91.6" font-size="2.6" font-weight="bold" text-anchor="middle" fill="#fff" stroke="#fff" stroke-width="0.28">ENS</text>
<rect x="142.8" y="49.4" width="13.2" height="4.6" fill="#fff" stroke="#111" stroke-width="0.9"/>
<rect x="145.6" y="50.6" width="3" height="2.2" fill="#222" stroke="none" stroke-width="0.7"/>
<rect x="150.6" y="50.6" width="3" height="2.2" fill="#222" stroke="none" stroke-width="0.7"/>
<rect x="173" y="63" width="4" height="7" fill="#fff" stroke="#222" stroke-width="0.6"/>
<rect x="178.6" y="63" width="5.4" height="3" fill="#222" stroke="none" stroke-width="0.7"/>
<rect x="174" y="72" width="6" height="6" fill="#fff" stroke="#222" stroke-width="0.6"/>
<rect x="188.4" y="63" width="8.6" height="4.6" fill="#fff" stroke="#222" stroke-width="0.7"/>
<rect x="189.6" y="64" width="6.4" height="2.6" fill="#222" stroke="none" stroke-width="0.7"/>
<rect x="189" y="69" width="4" height="5" fill="#fff" stroke="#222" stroke-width="0.6"/>
<rect x="194" y="70" width="3.4" height="6" fill="#222" stroke="none" stroke-width="0.7"/>
<text x="179" y="71.6" font-size="2.6" font-weight="bold" text-anchor="middle" stroke="#000" stroke-width="0.28">WC</text>
<text x="192.8" y="79" font-size="2.4" font-weight="bold" text-anchor="middle" stroke="#000" stroke-width="0.28">SHR</text>
<rect x="178.5" y="47.4" width="3.2" height="3" fill="#fff" stroke="#e8222a" stroke-width="0.7"/>
<rect x="179.4" y="48.2" width="1.4" height="1.4" fill="#222" stroke="none" stroke-width="0.7"/>
<line x1="173" y1="58" x2="198" y2="58" stroke="#e8222a" stroke-width="1" stroke-dasharray="2 1.5"/>
<rect x="175.3" y="54.4" width="2.6" height="3" fill="#222" stroke="none" stroke-width="0.7"/>
<rect x="180.1" y="54.4" width="2.6" height="3" fill="#222" stroke="none" stroke-width="0.7"/>
<rect x="185.1" y="54.4" width="2.6" height="3" fill="#222" stroke="none" stroke-width="0.7"/>
<rect x="190.3" y="54.4" width="2.6" height="3" fill="#222" stroke="none" stroke-width="0.7"/>
<rect x="194.7" y="54.4" width="2.6" height="3" fill="#222" stroke="none" stroke-width="0.7"/>
<rect x="243" y="96.4" width="15.6" height="7.2" fill="#fff" stroke="#222" stroke-width="0.7"/>
<rect x="244" y="97.4" width="4" height="5.2" fill="#e8222a" stroke="#222" stroke-width="0.4"/>
<text x="253.4" y="101.6" font-size="2.6" font-weight="bold" text-anchor="middle" stroke="#000" stroke-width="0.28">SHR</text>
<text x="248" y="87.4" font-size="3.4" font-weight="bold" text-anchor="middle" textLength="9" lengthAdjust="spacingAndGlyphs" stroke="#000" stroke-width="0.28">P.T.D</text>
<rect x="246.6" y="88.6" width="2.4" height="2.4" fill="none" stroke="#222" stroke-width="0.45"/>
<text x="71.7" y="63.4" font-size="4.2" font-weight="bold" textLength="32.3" lengthAdjust="spacingAndGlyphs" stroke="#000" stroke-width="0.28">MASTER BEDROOM</text>
<text x="87.85" y="66" font-size="1.9" text-anchor="middle" fill="#333">ceiling 2.6m</text>
<text x="78.7" y="69.6" font-size="3.4" font-weight="bold" textLength="18" lengthAdjust="spacingAndGlyphs" stroke="#000" stroke-width="0.28">(3.9 x 3.6 m)</text>
<text x="146" y="70" font-size="4.2" font-weight="bold" fill="#222" textLength="16.7" lengthAdjust="spacingAndGlyphs" stroke="#222" stroke-width="0.28">KITCHEN/</text>
<text x="146" y="74.6" font-size="4.2" font-weight="bold" fill="#222" textLength="16.7" lengthAdjust="spacingAndGlyphs" stroke="#222" stroke-width="0.28">KITCHEN</text>
<text x="206" y="61" font-size="4.2" font-weight="bold" textLength="21.5" lengthAdjust="spacingAndGlyphs" stroke="#000" stroke-width="0.28">BEDROOM 1</text>
<text x="216.75" y="63.6" font-size="1.9" text-anchor="middle" fill="#333">ceiling 2.6m</text>
<text x="205" y="66.8" font-size="3.4" font-weight="bold" textLength="16" lengthAdjust="spacingAndGlyphs" stroke="#000" stroke-width="0.28">(3.0 x 3.0 m)</text>
<text x="238" y="61" font-size="4.2" font-weight="bold" textLength="21" lengthAdjust="spacingAndGlyphs" stroke="#000" stroke-width="0.28">BEDROOM 2</text>
<text x="248.5" y="63.6" font-size="1.9" text-anchor="middle" fill="#333">ceiling 2.6m</text>
<text x="236" y="66.8" font-size="3.4" font-weight="bold" textLength="17" lengthAdjust="spacingAndGlyphs" stroke="#000" stroke-width="0.28">(3.0 x 3.0 m)</text>
<text x="172.6" y="86.6" font-size="4" font-weight="bold" textLength="10.6" lengthAdjust="spacingAndGlyphs" stroke="#000" stroke-width="0.28">LOBBY</text>
<text x="197.5" y="89" font-size="3.8" font-weight="bold" textLength="15.5" lengthAdjust="spacingAndGlyphs" stroke="#000" stroke-width="0.28">PASSAGE</text>
<rect x="215.6" y="86" width="2" height="3.6" fill="#222" stroke="none" stroke-width="0.7"/>
<text x="146" y="103" font-size="3.8" font-weight="bold" textLength="15" lengthAdjust="spacingAndGlyphs" stroke="#000" stroke-width="0.28">HWB/Dr</text>
<rect x="136.4" y="99.2" width="2.4" height="3.8" fill="#222" stroke="none" stroke-width="0.7"/>
<rect x="167" y="99.2" width="2.6" height="3.8" fill="#222" stroke="none" stroke-width="0.7"/>
<rect x="206" y="99.4" width="2.4" height="3.8" fill="#222" stroke="none" stroke-width="0.7"/>
<text x="88" y="107" font-size="4.2" font-weight="bold" textLength="15" lengthAdjust="spacingAndGlyphs" stroke="#000" stroke-width="0.28">LOUNGE</text>
<text x="87.5" y="111.8" font-size="3.4" font-weight="bold" textLength="16.5" lengthAdjust="spacingAndGlyphs" stroke="#000" stroke-width="0.28">(4.8 x 5.6 m)</text>
<text x="134" y="121" font-size="3.8" font-weight="bold" textLength="13.6" lengthAdjust="spacingAndGlyphs" stroke="#000" stroke-width="0.28">DINING</text>
<text x="133.6" y="125" font-size="3" font-weight="bold" textLength="14.6" lengthAdjust="spacingAndGlyphs" stroke="#000" stroke-width="0.28">(3.0 x 3.6 m)</text>
<text x="164" y="121" font-size="4.2" font-weight="bold" textLength="20" lengthAdjust="spacingAndGlyphs" stroke="#000" stroke-width="0.28">BEDROOM 5</text>
<text x="174" y="123.6" font-size="1.9" text-anchor="middle" fill="#333">ceiling 2.6m</text>
<text x="161" y="127" font-size="3.4" font-weight="bold" textLength="17" lengthAdjust="spacingAndGlyphs" stroke="#000" stroke-width="0.28">(3.6 x 3.0 m)</text>
<text x="202.5" y="116.8" font-size="4.2" font-weight="bold" textLength="24.2" lengthAdjust="spacingAndGlyphs" stroke="#000" stroke-width="0.28">BEDROOM 4</text>
<text x="214.6" y="119.4" font-size="1.9" text-anchor="middle" fill="#333">ceiling 2.6m</text>
<text x="203" y="122.6" font-size="3.4" font-weight="bold" textLength="18.7" lengthAdjust="spacingAndGlyphs" stroke="#000" stroke-width="0.28">(3.6 x 3.0 m)</text>
<text x="233" y="116.8" font-size="4.2" font-weight="bold" textLength="21" lengthAdjust="spacingAndGlyphs" stroke="#000" stroke-width="0.28">BEDROOM 3</text>
<text x="243.5" y="119.4" font-size="1.9" text-anchor="middle" fill="#333">ceiling 2.6m</text>
<text x="233" y="122.6" font-size="3.4" font-weight="bold" textLength="18" lengthAdjust="spacingAndGlyphs" stroke="#000" stroke-width="0.28">(3.0 x 3.0 m)</text>
<rect x="194.6" y="116" width="2.4" height="5.4" fill="#222" stroke="none" stroke-width="0.7"/>
<text x="216" y="108.6" font-size="2.8" font-weight="bold" text-anchor="middle" stroke="#000" stroke-width="0.28">BIC</text>
<text x="181" y="105.6" font-size="2.6" font-weight="bold" text-anchor="middle" stroke="#000" stroke-width="0.28">BIC</text>
<polyline points="104,41.7 111.7,38 191,38" fill="none" stroke="#e01822" stroke-width="1" stroke-dasharray="2.6 1.4"/>
<line x1="112" y1="41.7" x2="166" y2="41.7" stroke="#e01822" stroke-width="0.9" stroke-dasharray="2.6 1.4"/>
<polyline points="252,38 271,38" fill="none" stroke="#e01822" stroke-width="1" stroke-dasharray="2.6 1.4"/>
<line x1="271" y1="21" x2="271" y2="43" stroke="#e01822" stroke-width="1" stroke-dasharray="2.6 1.4"/>
<line x1="181" y1="49" x2="191.4" y2="37.6" stroke="#e01822" stroke-width="1" stroke-dasharray="2.6 1.4"/>
<circle cx="106.3" cy="40.4" r="1.9" fill="#fff" stroke="#111" stroke-width="0.8"/>
<rect x="258.6" y="41.6" width="3.2" height="2.8" fill="#222" stroke="none" stroke-width="0.7"/>
<rect x="269.2" y="41.2" width="4.2" height="3.8" fill="#222" stroke="none" stroke-width="0.7"/>
<text x="191.6" y="37.2" font-size="3" font-weight="bold" textLength="60.4" lengthAdjust="spacingAndGlyphs" stroke="#000" stroke-width="0.4">110mm dia. uPVC sewer pipe to municipal connection</text>
<circle cx="108" cy="148" r="1.9" fill="#fff" stroke="#111" stroke-width="0.7"/>
<line x1="104.5" y1="146" x2="111" y2="150" stroke="#000" stroke-width="0.6"/>
<rect x="263" y="85.5" width="7" height="6.5" fill="#fff" stroke="#222" stroke-width="0.5"/>
<rect x="265.5" y="87" width="1.6" height="3.4" fill="#222" stroke="none" stroke-width="0.7"/>
<text x="171" y="187" font-size="10" font-weight="bold" text-anchor="middle" textLength="115.5" lengthAdjust="spacingAndGlyphs" stroke="#000" stroke-width="0.55">FLOOR PLAN - SCALE 1:100</text>
<text x="171" y="196.4" font-size="9.6" font-weight="bold" text-anchor="middle" textLength="98.5" lengthAdjust="spacingAndGlyphs" stroke="#000" stroke-width="0.55">Area=163 Square Metres</text>
<polygon points="31.7,230.6 70,215.8 101,215.8 110,212 170.7,212 179,208.4 186,208.4 203,216.2 221,216.2 255.7,230.6" fill="url(#tile)" stroke="#222" stroke-width="0.7"/>
<line x1="32" y1="230.6" x2="255" y2="230.6" stroke="#000" stroke-width="1.1"/>
<line x1="31" y1="231.6" x2="256" y2="231.6" stroke="#000" stroke-width="0.5"/>
<line x1="70" y1="215.8" x2="86" y2="223" stroke="#222" stroke-width="0.5"/>
<line x1="86" y1="223" x2="105" y2="230.4" stroke="#222" stroke-width="0.5"/>
<line x1="101" y1="215.8" x2="110" y2="222" stroke="#222" stroke-width="0.5"/>
<line x1="110" y1="212" x2="132" y2="227.5" stroke="#222" stroke-width="0.5"/>
<line x1="179" y1="208.4" x2="130" y2="228.6" stroke="#222" stroke-width="0.6"/>
<line x1="170.7" y1="212" x2="186" y2="208.4" stroke="#333" stroke-width="0.4"/>
<line x1="186" y1="208.4" x2="221" y2="222" stroke="#444" stroke-width="0.4"/>
<rect x="63" y="224.2" width="12" height="1.2" fill="#111" stroke="none" stroke-width="0.7"/>
<rect x="114" y="219.4" width="11" height="1.2" fill="#111" stroke="none" stroke-width="0.7"/>
<rect x="118" y="224.6" width="12" height="1.2" fill="#111" stroke="none" stroke-width="0.7"/>
<rect x="171" y="220.4" width="12" height="1.2" fill="#111" stroke="none" stroke-width="0.7"/>
<rect x="39" y="231.6" width="193.5" height="29.4" fill="#fff" stroke="#111" stroke-width="0.7"/>
<line x1="103.5" y1="231.6" x2="103.5" y2="261" stroke="#000" stroke-width="0.6"/>
<line x1="117.5" y1="231.6" x2="117.5" y2="261" stroke="#000" stroke-width="0.6"/>
<line x1="128.5" y1="231.6" x2="128.5" y2="261" stroke="#000" stroke-width="0.6"/>
<line x1="25.5" y1="261" x2="250.5" y2="261" stroke="#000" stroke-width="0.9"/>
<line x1="39" y1="259.2" x2="232" y2="259.2" stroke="#000" stroke-width="0.5" stroke-dasharray="2 1.2"/>
<line x1="232.5" y1="236" x2="250" y2="236" stroke="#000" stroke-width="0.6"/>
<rect x="245.5" y="236" width="3.5" height="24" fill="#222" stroke="#111" stroke-width="0.4"/>
<rect x="244.5" y="259" width="5.5" height="2" fill="#111" stroke="none" stroke-width="0.7"/>
<line x1="232.5" y1="232" x2="252" y2="232" stroke="#000" stroke-width="0.5"/>
<rect x="46" y="237.5" width="18" height="13.5" fill="#fff" stroke="#111" stroke-width="1.1"/>
<line x1="52.48" y1="237.5" x2="52.48" y2="251" stroke="#111" stroke-width="1"/>
<line x1="57.52" y1="237.5" x2="57.52" y2="251" stroke="#111" stroke-width="1"/>
<line x1="52.48" y1="241.15" x2="57.52" y2="241.15" stroke="#111" stroke-width="0.8"/>
<line x1="45.4" y1="251.7" x2="64.6" y2="251.7" stroke="#222" stroke-width="0.5"/>
<text x="55" y="255.2" font-size="2.8" font-weight="bold" text-anchor="middle" stroke="#000" stroke-width="0.15">ND4F</text>
<rect x="77.5" y="237.5" width="16.5" height="13.5" fill="#fff" stroke="#111" stroke-width="1.1"/>
<line x1="83.44" y1="237.5" x2="83.44" y2="251" stroke="#111" stroke-width="1"/>
<line x1="88.06" y1="237.5" x2="88.06" y2="251" stroke="#111" stroke-width="1"/>
<line x1="83.44" y1="241.15" x2="88.06" y2="241.15" stroke="#111" stroke-width="0.8"/>
<line x1="76.9" y1="251.7" x2="94.6" y2="251.7" stroke="#222" stroke-width="0.5"/>
<text x="85.75" y="255.2" font-size="2.8" font-weight="bold" text-anchor="middle" stroke="#000" stroke-width="0.15">ND4F</text>
<rect x="104.8" y="238" width="6.2" height="10.5" fill="#fff" stroke="#111" stroke-width="1.1"/>
<rect x="105.8" y="239" width="4.2" height="8.5" fill="none" stroke="#333" stroke-width="0.4"/>
<line x1="104.8" y1="240.62" x2="111" y2="240.62" stroke="#222" stroke-width="0.6"/>
<line x1="104.2" y1="249.2" x2="111.6" y2="249.2" stroke="#222" stroke-width="0.5"/>
<text x="107.9" y="252.7" font-size="2.8" font-weight="bold" text-anchor="middle" stroke="#000" stroke-width="0.15">ND2F</text>
<rect x="120" y="238" width="6" height="10.5" fill="#fff" stroke="#111" stroke-width="1.1"/>
<rect x="121" y="239" width="4" height="8.5" fill="none" stroke="#333" stroke-width="0.4"/>
<line x1="120" y1="240.62" x2="126" y2="240.62" stroke="#222" stroke-width="0.6"/>
<line x1="119.4" y1="249.2" x2="126.6" y2="249.2" stroke="#222" stroke-width="0.5"/>
<text x="123" y="252.7" font-size="2.8" font-weight="bold" text-anchor="middle" stroke="#000" stroke-width="0.15">ND2F</text>
<rect x="133" y="237.5" width="8.5" height="22" fill="#fff" stroke="#111" stroke-width="1.2"/>
<line x1="137.25" y1="237.5" x2="137.25" y2="259.5" stroke="#111" stroke-width="0.9"/>
<rect x="134.3" y="238.5" width="2.35" height="3.1" fill="#fff" stroke="#111" stroke-width="0.7"/>
<rect x="137.85" y="238.5" width="2.35" height="3.1" fill="#fff" stroke="#111" stroke-width="0.7"/>
<rect x="134.3" y="242.5" width="2.35" height="3.1" fill="#fff" stroke="#111" stroke-width="0.7"/>
<rect x="137.85" y="242.5" width="2.35" height="3.1" fill="#fff" stroke="#111" stroke-width="0.7"/>
<rect x="134.3" y="246.5" width="2.35" height="3.1" fill="#fff" stroke="#111" stroke-width="0.7"/>
<rect x="137.85" y="246.5" width="2.35" height="3.1" fill="#fff" stroke="#111" stroke-width="0.7"/>
<rect x="134.3" y="250.5" width="2.35" height="3.1" fill="#fff" stroke="#111" stroke-width="0.7"/>
<rect x="137.85" y="250.5" width="2.35" height="3.1" fill="#fff" stroke="#111" stroke-width="0.7"/>
<rect x="134.3" y="254.5" width="2.35" height="3.1" fill="#fff" stroke="#111" stroke-width="0.7"/>
<rect x="137.85" y="254.5" width="2.35" height="3.1" fill="#fff" stroke="#111" stroke-width="0.7"/>
<rect x="144.5" y="237.5" width="16.5" height="12" fill="#fff" stroke="#111" stroke-width="1.1"/>
<line x1="150.44" y1="237.5" x2="150.44" y2="249.5" stroke="#111" stroke-width="1"/>
<line x1="155.06" y1="237.5" x2="155.06" y2="249.5" stroke="#111" stroke-width="1"/>
<line x1="150.44" y1="240.74" x2="155.06" y2="240.74" stroke="#111" stroke-width="0.8"/>
<line x1="143.9" y1="250.2" x2="161.6" y2="250.2" stroke="#222" stroke-width="0.5"/>
<text x="152.75" y="253.7" font-size="2.8" font-weight="bold" text-anchor="middle" stroke="#000" stroke-width="0.15">ND4F</text>
<rect x="169.5" y="237.5" width="11.5" height="12" fill="#fff" stroke="#111" stroke-width="1.1"/>
<line x1="173.64" y1="237.5" x2="173.64" y2="249.5" stroke="#111" stroke-width="1"/>
<line x1="176.86" y1="237.5" x2="176.86" y2="249.5" stroke="#111" stroke-width="1"/>
<line x1="173.64" y1="240.74" x2="176.86" y2="240.74" stroke="#111" stroke-width="0.8"/>
<line x1="168.9" y1="250.2" x2="181.6" y2="250.2" stroke="#222" stroke-width="0.5"/>
<text x="175.25" y="253.7" font-size="2.8" font-weight="bold" text-anchor="middle" stroke="#000" stroke-width="0.15">ND2F</text>
<rect x="200" y="237.5" width="17.5" height="13.5" fill="#fff" stroke="#111" stroke-width="1.1"/>
<line x1="206.3" y1="237.5" x2="206.3" y2="251" stroke="#111" stroke-width="1"/>
<line x1="211.2" y1="237.5" x2="211.2" y2="251" stroke="#111" stroke-width="1"/>
<line x1="206.3" y1="241.15" x2="211.2" y2="241.15" stroke="#111" stroke-width="0.8"/>
<line x1="199.4" y1="251.7" x2="218.1" y2="251.7" stroke="#222" stroke-width="0.5"/>
<text x="208.75" y="255.2" font-size="2.8" font-weight="bold" text-anchor="middle" stroke="#000" stroke-width="0.15">ND4F</text>
<text x="15.5" y="261.3" font-size="4" font-weight="bold" textLength="9" lengthAdjust="spacingAndGlyphs" stroke="#000" stroke-width="0.35">N.G.L.</text>
<text x="251.5" y="261.3" font-size="4" font-weight="bold" textLength="9" lengthAdjust="spacingAndGlyphs" stroke="#000" stroke-width="0.35">N.G.L.</text>
<text x="52" y="258.6" font-size="2.2" font-weight="bold" text-anchor="middle" stroke="#000" stroke-width="0.28">FL</text>
<text x="230" y="258.6" font-size="2.2" font-weight="bold" text-anchor="middle" stroke="#000" stroke-width="0.28">FL</text>
<line x1="24" y1="264.6" x2="192" y2="264.6" stroke="#e01822" stroke-width="1" stroke-dasharray="2.6 1.5"/>
<polyline points="27,263 22.5,264.6 27,266.2" fill="none" stroke="#e8222a" stroke-width="0.7"/>
<text x="100" y="266.6" font-size="2.5" font-weight="bold" text-anchor="middle" textLength="64" lengthAdjust="spacingAndGlyphs" stroke="#000" stroke-width="0.28">110mm dia. uPVC sewer pipe to municipal connection</text>
<polygon points="191,266.6 192.4,264.2 193.8,266.6" fill="#111" stroke="none" stroke-width="0.7"/>
<text x="195" y="266.8" font-size="3.4" font-weight="bold" textLength="12" lengthAdjust="spacingAndGlyphs" stroke="#000" stroke-width="0.3">I.L 450</text>
<line x1="117" y1="258" x2="121" y2="266" stroke="#e8222a" stroke-width="0.6"/>
<text x="149" y="277.2" font-size="10" font-weight="bold" text-anchor="middle" textLength="140" lengthAdjust="spacingAndGlyphs" stroke="#000" stroke-width="0.6">SOUTH ELEVATION - SCALE 1:100</text>
<polygon points="28.7,311 66.6,296.3 82.8,295.2 101.3,288.2 110,288.2 115.3,291.6 203.2,291.8 252,311" fill="url(#tile)" stroke="#222" stroke-width="0.7"/>
<line x1="28.4" y1="311.2" x2="252.4" y2="311.2" stroke="#000" stroke-width="1.3"/>
<line x1="28" y1="312.4" x2="253" y2="312.4" stroke="#000" stroke-width="0.5"/>
<line x1="82.8" y1="295.2" x2="101" y2="300" stroke="#555" stroke-width="0.4"/>
<line x1="110" y1="288.2" x2="132" y2="303" stroke="#555" stroke-width="0.4"/>
<rect x="122" y="301.2" width="12" height="1.2" fill="#111" stroke="none" stroke-width="0.7"/>
<rect x="197" y="302.6" width="11" height="1.2" fill="#111" stroke="none" stroke-width="0.7"/>
<rect x="52.6" y="312.4" width="193.4" height="27.8" fill="#fff" stroke="#111" stroke-width="0.7"/>
<rect x="50.4" y="318.6" width="2.4" height="20.4" fill="#ccc" stroke="#444" stroke-width="0.4"/>
<line x1="26" y1="340.2" x2="248" y2="340.2" stroke="#000" stroke-width="1"/>
<line x1="54" y1="338.4" x2="246" y2="338.4" stroke="#000" stroke-width="0.5" stroke-dasharray="2 1.2"/>
<line x1="33" y1="316" x2="54" y2="316" stroke="#000" stroke-width="0.6"/>
<line x1="33" y1="312" x2="33" y2="316" stroke="#000" stroke-width="0.5"/>
<rect x="35.2" y="318" width="3.8" height="20.5" fill="#222" stroke="#111" stroke-width="0.4"/>
<rect x="34.2" y="338" width="5.8" height="2.6" fill="#111" stroke="none" stroke-width="0.7"/>
<rect x="34.2" y="316" width="5.8" height="2.4" fill="#111" stroke="none" stroke-width="0.7"/>
<line x1="52" y1="319" x2="52" y2="340" stroke="#555" stroke-width="0.4"/>
<rect x="66.5" y="318.4" width="23" height="14.4" fill="#fff" stroke="#111" stroke-width="1.1"/>
<line x1="74.78" y1="318.4" x2="74.78" y2="332.8" stroke="#111" stroke-width="1"/>
<line x1="81.22" y1="318.4" x2="81.22" y2="332.8" stroke="#111" stroke-width="1"/>
<line x1="74.78" y1="322.29" x2="81.22" y2="322.29" stroke="#111" stroke-width="0.8"/>
<line x1="65.9" y1="333.5" x2="90.1" y2="333.5" stroke="#222" stroke-width="0.5"/>
<text x="78" y="337" font-size="2.8" font-weight="bold" text-anchor="middle" stroke="#000" stroke-width="0.15">ND10OF</text>
<rect x="112.5" y="318.4" width="16.5" height="14.4" fill="#fff" stroke="#111" stroke-width="1.1"/>
<line x1="118.44" y1="318.4" x2="118.44" y2="332.8" stroke="#111" stroke-width="1"/>
<line x1="123.06" y1="318.4" x2="123.06" y2="332.8" stroke="#111" stroke-width="1"/>
<line x1="118.44" y1="322.29" x2="123.06" y2="322.29" stroke="#111" stroke-width="0.8"/>
<line x1="111.9" y1="333.5" x2="129.6" y2="333.5" stroke="#222" stroke-width="0.5"/>
<text x="120.75" y="337" font-size="2.8" font-weight="bold" text-anchor="middle" stroke="#000" stroke-width="0.15">ND4F</text>
<rect x="147" y="318.4" width="17.5" height="14.4" fill="#fff" stroke="#111" stroke-width="1.1"/>
<line x1="153.3" y1="318.4" x2="153.3" y2="332.8" stroke="#111" stroke-width="1"/>
<line x1="158.2" y1="318.4" x2="158.2" y2="332.8" stroke="#111" stroke-width="1"/>
<line x1="153.3" y1="322.29" x2="158.2" y2="322.29" stroke="#111" stroke-width="0.8"/>
<line x1="146.4" y1="333.5" x2="165.1" y2="333.5" stroke="#222" stroke-width="0.5"/>
<text x="155.75" y="337" font-size="2.8" font-weight="bold" text-anchor="middle" stroke="#000" stroke-width="0.15">ND4F</text>
<rect x="187" y="318.4" width="16" height="14.4" fill="#fff" stroke="#111" stroke-width="1.1"/>
<line x1="192.76" y1="318.4" x2="192.76" y2="332.8" stroke="#111" stroke-width="1"/>
<line x1="197.24" y1="318.4" x2="197.24" y2="332.8" stroke="#111" stroke-width="1"/>
<line x1="192.76" y1="322.29" x2="197.24" y2="322.29" stroke="#111" stroke-width="0.8"/>
<line x1="186.4" y1="333.5" x2="203.6" y2="333.5" stroke="#222" stroke-width="0.5"/>
<text x="195" y="337" font-size="2.8" font-weight="bold" text-anchor="middle" stroke="#000" stroke-width="0.15">ND4F</text>
<rect x="219.5" y="318.4" width="16.5" height="14.4" fill="#fff" stroke="#111" stroke-width="1.1"/>
<line x1="225.44" y1="318.4" x2="225.44" y2="332.8" stroke="#111" stroke-width="1"/>
<line x1="230.06" y1="318.4" x2="230.06" y2="332.8" stroke="#111" stroke-width="1"/>
<line x1="225.44" y1="322.29" x2="230.06" y2="322.29" stroke="#111" stroke-width="0.8"/>
<line x1="218.9" y1="333.5" x2="236.6" y2="333.5" stroke="#222" stroke-width="0.5"/>
<text x="227.75" y="337" font-size="2.8" font-weight="bold" text-anchor="middle" stroke="#000" stroke-width="0.15">ND4F</text>
<text x="16.5" y="341.9" font-size="4" font-weight="bold" textLength="9" lengthAdjust="spacingAndGlyphs" stroke="#000" stroke-width="0.35">N.G.L.</text>
<text x="251" y="341.3" font-size="4" font-weight="bold" textLength="9" lengthAdjust="spacingAndGlyphs" stroke="#000" stroke-width="0.35">N.G.L.</text>
<text x="59" y="338.4" font-size="2.2" font-weight="bold" text-anchor="middle" stroke="#000" stroke-width="0.28">FL</text>
<text x="247.5" y="338.4" font-size="2.2" font-weight="bold" text-anchor="middle" stroke="#000" stroke-width="0.28">FL</text>
<text x="114" y="356" font-size="10" font-weight="bold" text-anchor="middle" textLength="140" lengthAdjust="spacingAndGlyphs" stroke="#000" stroke-width="0.6">NORTH ELEVATION - SCALE 1:100</text>
<polygon points="27.5,390 84,367.5 140,390" fill="url(#tile)" stroke="#222" stroke-width="0.7"/>
<line x1="27.5" y1="390" x2="140" y2="390" stroke="#000" stroke-width="1.1"/>
<line x1="27" y1="391" x2="140.5" y2="391" stroke="#000" stroke-width="0.5"/>
<line x1="68.8" y1="390.2" x2="103.4" y2="376.8" stroke="#111" stroke-width="1"/>
<line x1="68.8" y1="388.2" x2="101" y2="375.6" stroke="#fff" stroke-width="0.5"/>
<line x1="68.8" y1="387.4" x2="100" y2="375.2" stroke="#333" stroke-width="0.4"/>
<line x1="84" y1="367.5" x2="77" y2="387" stroke="#333" stroke-width="0.4"/>
<rect x="60" y="382" width="13" height="1.2" fill="#111" stroke="none" stroke-width="0.7"/>
<rect x="98" y="382.6" width="12" height="1.2" fill="#111" stroke="none" stroke-width="0.7"/>
<rect x="34" y="391" width="101" height="28" fill="#fff" stroke="#111" stroke-width="0.7"/>
<line x1="72.5" y1="391" x2="72.5" y2="396.5" stroke="#000" stroke-width="0.6"/>
<line x1="72.5" y1="396.5" x2="135" y2="396.5" stroke="#000" stroke-width="0.8"/>
<rect x="74" y="397" width="3.5" height="21" fill="#222" stroke="#111" stroke-width="0.4"/>
<rect x="130.2" y="397" width="3.6" height="21" fill="#222" stroke="#111" stroke-width="0.4"/>
<rect x="73" y="417.3" width="5.5" height="1.7" fill="#111" stroke="none" stroke-width="0.7"/>
<rect x="129.2" y="417.3" width="5.6" height="1.7" fill="#111" stroke="none" stroke-width="0.7"/>
<line x1="32" y1="419.2" x2="136.4" y2="419.2" stroke="#000" stroke-width="0.9"/>
<line x1="34" y1="417.4" x2="135" y2="417.4" stroke="#000" stroke-width="0.5" stroke-dasharray="2 1.2"/>
<rect x="42.7" y="397.4" width="21.7" height="15.6" fill="#fff" stroke="#111" stroke-width="1.1"/>
<line x1="42.7" y1="400.4" x2="64.4" y2="400.4" stroke="#111" stroke-width="0.8"/>
<line x1="47" y1="397.4" x2="47" y2="413" stroke="#111" stroke-width="0.9"/>
<line x1="60.2" y1="397.4" x2="60.2" y2="413" stroke="#111" stroke-width="0.9"/>
<line x1="42" y1="413.6" x2="65" y2="413.6" stroke="#000" stroke-width="0.7"/>
<text x="53.5" y="416.8" font-size="2.7" font-weight="bold" text-anchor="middle" stroke="#000" stroke-width="0.1">ND11F</text>
<rect x="79.5" y="397.5" width="9.5" height="21.5" fill="#fff" stroke="#111" stroke-width="1.2"/>
<line x1="84.25" y1="397.5" x2="84.25" y2="419" stroke="#111" stroke-width="0.9"/>
<rect x="80.8" y="398.5" width="2.85" height="3" fill="#fff" stroke="#111" stroke-width="0.7"/>
<rect x="84.85" y="398.5" width="2.85" height="3" fill="#fff" stroke="#111" stroke-width="0.7"/>
<rect x="80.8" y="402.4" width="2.85" height="3" fill="#fff" stroke="#111" stroke-width="0.7"/>
<rect x="84.85" y="402.4" width="2.85" height="3" fill="#fff" stroke="#111" stroke-width="0.7"/>
<rect x="80.8" y="406.3" width="2.85" height="3" fill="#fff" stroke="#111" stroke-width="0.7"/>
<rect x="84.85" y="406.3" width="2.85" height="3" fill="#fff" stroke="#111" stroke-width="0.7"/>
<rect x="80.8" y="410.2" width="2.85" height="3" fill="#fff" stroke="#111" stroke-width="0.7"/>
<rect x="84.85" y="410.2" width="2.85" height="3" fill="#fff" stroke="#111" stroke-width="0.7"/>
<rect x="80.8" y="414.1" width="2.85" height="3" fill="#fff" stroke="#111" stroke-width="0.7"/>
<rect x="84.85" y="414.1" width="2.85" height="3" fill="#fff" stroke="#111" stroke-width="0.7"/>
<rect x="92.5" y="397.5" width="32.5" height="21.5" fill="#fff" stroke="#111" stroke-width="0.9"/>
<line x1="100.6" y1="397.5" x2="100.6" y2="419" stroke="#111" stroke-width="1"/>
<line x1="108.8" y1="397.5" x2="108.8" y2="419" stroke="#111" stroke-width="1"/>
<line x1="117" y1="397.5" x2="117" y2="419" stroke="#111" stroke-width="1"/>
<line x1="93.9" y1="403" x2="99.1" y2="403" stroke="#555" stroke-width="0.6" stroke-dasharray="0.8 0.5"/>
<line x1="93.9" y1="404.7" x2="99.1" y2="404.7" stroke="#555" stroke-width="0.6" stroke-dasharray="0.8 0.5"/>
<line x1="93.9" y1="406.4" x2="99.1" y2="406.4" stroke="#555" stroke-width="0.6" stroke-dasharray="0.8 0.5"/>
<line x1="93.9" y1="408.1" x2="99.1" y2="408.1" stroke="#555" stroke-width="0.6" stroke-dasharray="0.8 0.5"/>
<line x1="93.9" y1="409.8" x2="99.1" y2="409.8" stroke="#555" stroke-width="0.6" stroke-dasharray="0.8 0.5"/>
<line x1="102.1" y1="403" x2="107.3" y2="403" stroke="#555" stroke-width="0.6" stroke-dasharray="0.8 0.5"/>
<line x1="102.1" y1="404.7" x2="107.3" y2="404.7" stroke="#555" stroke-width="0.6" stroke-dasharray="0.8 0.5"/>
<line x1="102.1" y1="406.4" x2="107.3" y2="406.4" stroke="#555" stroke-width="0.6" stroke-dasharray="0.8 0.5"/>
<line x1="102.1" y1="408.1" x2="107.3" y2="408.1" stroke="#555" stroke-width="0.6" stroke-dasharray="0.8 0.5"/>
<line x1="102.1" y1="409.8" x2="107.3" y2="409.8" stroke="#555" stroke-width="0.6" stroke-dasharray="0.8 0.5"/>
<line x1="110.3" y1="403" x2="115.5" y2="403" stroke="#555" stroke-width="0.6" stroke-dasharray="0.8 0.5"/>
<line x1="110.3" y1="404.7" x2="115.5" y2="404.7" stroke="#555" stroke-width="0.6" stroke-dasharray="0.8 0.5"/>
<line x1="110.3" y1="406.4" x2="115.5" y2="406.4" stroke="#555" stroke-width="0.6" stroke-dasharray="0.8 0.5"/>
<line x1="110.3" y1="408.1" x2="115.5" y2="408.1" stroke="#555" stroke-width="0.6" stroke-dasharray="0.8 0.5"/>
<line x1="110.3" y1="409.8" x2="115.5" y2="409.8" stroke="#555" stroke-width="0.6" stroke-dasharray="0.8 0.5"/>
<line x1="118.4" y1="403" x2="123.6" y2="403" stroke="#555" stroke-width="0.6" stroke-dasharray="0.8 0.5"/>
<line x1="118.4" y1="404.7" x2="123.6" y2="404.7" stroke="#555" stroke-width="0.6" stroke-dasharray="0.8 0.5"/>
<line x1="118.4" y1="406.4" x2="123.6" y2="406.4" stroke="#555" stroke-width="0.6" stroke-dasharray="0.8 0.5"/>
<line x1="118.4" y1="408.1" x2="123.6" y2="408.1" stroke="#555" stroke-width="0.6" stroke-dasharray="0.8 0.5"/>
<line x1="118.4" y1="409.8" x2="123.6" y2="409.8" stroke="#555" stroke-width="0.6" stroke-dasharray="0.8 0.5"/>
<text x="22.2" y="420.3" font-size="4" font-weight="bold" textLength="9" lengthAdjust="spacingAndGlyphs" stroke="#000" stroke-width="0.35">N.G.L.</text>
<text x="137.4" y="420.3" font-size="4" font-weight="bold" textLength="9" lengthAdjust="spacingAndGlyphs" stroke="#000" stroke-width="0.35">N.G.L.</text>
<text x="37" y="417" font-size="2.2" font-weight="bold" text-anchor="middle" stroke="#000" stroke-width="0.28">FL</text>
<text x="81" y="436.3" font-size="10" font-weight="bold" text-anchor="middle" textLength="133" lengthAdjust="spacingAndGlyphs" stroke="#000" stroke-width="0.6">EAST ELEVATION - SCALE 1:100</text>
<polygon points="175,390 231,368 287.5,390" fill="url(#tile)" stroke="#222" stroke-width="0.7"/>
<line x1="175" y1="390" x2="287.5" y2="390" stroke="#000" stroke-width="1.1"/>
<line x1="174.5" y1="391" x2="288" y2="391" stroke="#000" stroke-width="0.5"/>
<line x1="231" y1="368" x2="236" y2="372" stroke="#333" stroke-width="0.4"/>
<line x1="227" y1="371" x2="240" y2="374" stroke="#333" stroke-width="0.4"/>
<rect x="236" y="382.6" width="13" height="1.2" fill="#111" stroke="none" stroke-width="0.7"/>
<rect x="181" y="391" width="101" height="28" fill="#fff" stroke="#111" stroke-width="0.7"/>
<line x1="180" y1="419.2" x2="281.4" y2="419.2" stroke="#000" stroke-width="0.9"/>
<line x1="181" y1="417.4" x2="282" y2="417.4" stroke="#000" stroke-width="0.5" stroke-dasharray="2 1.2"/>
<rect x="230" y="397" width="10.5" height="21.6" fill="#fff" stroke="#111" stroke-width="1.2"/>
<line x1="235.25" y1="397" x2="235.25" y2="418.6" stroke="#111" stroke-width="0.9"/>
<rect x="231.3" y="398" width="3.35" height="3.02" fill="#fff" stroke="#111" stroke-width="0.7"/>
<rect x="235.85" y="398" width="3.35" height="3.02" fill="#fff" stroke="#111" stroke-width="0.7"/>
<rect x="231.3" y="401.92" width="3.35" height="3.02" fill="#fff" stroke="#111" stroke-width="0.7"/>
<rect x="235.85" y="401.92" width="3.35" height="3.02" fill="#fff" stroke="#111" stroke-width="0.7"/>
<rect x="231.3" y="405.84" width="3.35" height="3.02" fill="#fff" stroke="#111" stroke-width="0.7"/>
<rect x="235.85" y="405.84" width="3.35" height="3.02" fill="#fff" stroke="#111" stroke-width="0.7"/>
<rect x="231.3" y="409.76" width="3.35" height="3.02" fill="#fff" stroke="#111" stroke-width="0.7"/>
<rect x="235.85" y="409.76" width="3.35" height="3.02" fill="#fff" stroke="#111" stroke-width="0.7"/>
<rect x="231.3" y="413.68" width="3.35" height="3.02" fill="#fff" stroke="#111" stroke-width="0.7"/>
<rect x="235.85" y="413.68" width="3.35" height="3.02" fill="#fff" stroke="#111" stroke-width="0.7"/>
<text x="168" y="420.5" font-size="4" font-weight="bold" textLength="9" lengthAdjust="spacingAndGlyphs" stroke="#000" stroke-width="0.35">N.G.L.</text>
<text x="282.6" y="420.5" font-size="4" font-weight="bold" textLength="9" lengthAdjust="spacingAndGlyphs" stroke="#000" stroke-width="0.35">N.G.L.</text>
<text x="185" y="417" font-size="2.2" font-weight="bold" text-anchor="middle" stroke="#000" stroke-width="0.28">FL</text>
<text x="276.5" y="417" font-size="2.2" font-weight="bold" text-anchor="middle" stroke="#000" stroke-width="0.28">FL</text>
<text x="227.5" y="437.7" font-size="10" font-weight="bold" text-anchor="middle" textLength="135" lengthAdjust="spacingAndGlyphs" stroke="#000" stroke-width="0.6">WEST ELEVATION - SCALE 1:100</text>
<rect x="296" y="247.4" width="103" height="2.6" fill="#f2e21c" stroke="#4a4300" stroke-width="0.45"/>
<line x1="290.6" y1="250.4" x2="347.5" y2="228.2" stroke="#4a4300" stroke-width="2.7"/>
<line x1="290.6" y1="250.4" x2="347.5" y2="228.2" stroke="#f2e21c" stroke-width="1.9"/>
<line x1="404.4" y1="250.4" x2="347.5" y2="228.2" stroke="#4a4300" stroke-width="2.7"/>
<line x1="404.4" y1="250.4" x2="347.5" y2="228.2" stroke="#f2e21c" stroke-width="1.9"/>
<rect x="339" y="227.2" width="17" height="1.8" fill="#bbb" stroke="#555" stroke-width="0.4"/>
<polyline points="343,228 347.5,226.4 352,228" fill="none" stroke="#444" stroke-width="0.6"/>
<line x1="347.5" y1="229" x2="347.5" y2="247.4" stroke="#444" stroke-width="0.45"/>
<line x1="321" y1="239" x2="321" y2="247.4" stroke="#444" stroke-width="0.45"/>
<line x1="374" y1="239" x2="374" y2="247.4" stroke="#444" stroke-width="0.45"/>
<line x1="347.5" y1="247" x2="321" y2="239" stroke="#444" stroke-width="0.45" stroke-dasharray="1.6 1"/>
<line x1="347.5" y1="247" x2="374" y2="239" stroke="#444" stroke-width="0.45" stroke-dasharray="1.6 1"/>
<line x1="321" y1="239" x2="347.5" y2="232" stroke="#555" stroke-width="0.4" stroke-dasharray="1.6 1"/>
<line x1="374" y1="239" x2="347.5" y2="232" stroke="#555" stroke-width="0.4" stroke-dasharray="1.6 1"/>
<text x="347.5" y="241.6" font-size="2.8" font-weight="bold" text-anchor="middle" stroke="#000" stroke-width="0.35">Roof truss</text>
<text x="347.5" y="244.4" font-size="2.3" font-weight="bold" text-anchor="middle" stroke="#000" stroke-width="0.28">to detail</text>
<text x="319.6" y="245.4" font-size="3" font-weight="bold" text-anchor="middle" stroke="#000" stroke-width="0.3">26°</text>
<rect x="294.5" y="280.5" width="7.5" height="8.1" fill="#f3c46a" stroke="#a86a10" stroke-width="0.4"/>
<rect x="294" y="288.4" width="8.5" height="1.8" fill="#5cc272" stroke="#1c7a32" stroke-width="0.4"/>
<rect x="353.2" y="280.5" width="7.2" height="8.1" fill="#f3c46a" stroke="#a86a10" stroke-width="0.4"/>
<rect x="352.7" y="288.4" width="8.2" height="1.8" fill="#5cc272" stroke="#1c7a32" stroke-width="0.4"/>
<rect x="392.4" y="280.5" width="7.4" height="8.1" fill="#f3c46a" stroke="#a86a10" stroke-width="0.4"/>
<rect x="391.9" y="288.4" width="8.4" height="1.8" fill="#5cc272" stroke="#1c7a32" stroke-width="0.4"/>
<rect x="296.5" y="250.2" width="3.1" height="38.3" fill="url(#rh)" stroke="#5a0a0e" stroke-width="0.55"/>
<rect x="296.2" y="250.2" width="3.7" height="2.4" fill="#7a1a12" stroke="none" stroke-width="0.7"/>
<rect x="355.3" y="250.2" width="3" height="38.3" fill="url(#rh)" stroke="#5a0a0e" stroke-width="0.55"/>
<rect x="355" y="250.2" width="3.6" height="2.4" fill="#7a1a12" stroke="none" stroke-width="0.7"/>
<rect x="394.5" y="250.2" width="3.2" height="38.3" fill="url(#rh)" stroke="#5a0a0e" stroke-width="0.55"/>
<rect x="394.2" y="250.2" width="3.8" height="2.4" fill="#7a1a12" stroke="none" stroke-width="0.7"/>
<rect x="299.6" y="279" width="94.9" height="2.5" fill="#f0b860" stroke="none" stroke-width="0.7"/>
<line x1="299.6" y1="278.4" x2="394.5" y2="278.4" stroke="#10381a" stroke-width="1.2"/>
<line x1="299.6" y1="281.6" x2="394.5" y2="281.6" stroke="#b01018" stroke-width="0.6"/>
<rect x="355.3" y="277.8" width="3" height="4.2" fill="url(#rh)" stroke="#5a0a0e" stroke-width="0.4"/>
<line x1="299.6" y1="251.4" x2="394.5" y2="251.4" stroke="#333" stroke-width="0.5"/>
<line x1="275" y1="280.2" x2="294.5" y2="280.2" stroke="#000" stroke-width="0.7"/>
<line x1="399.8" y1="280.2" x2="411" y2="280.2" stroke="#000" stroke-width="0.7"/>
<text x="283" y="279.6" font-size="3.6" font-weight="bold" textLength="9.5" lengthAdjust="spacingAndGlyphs" stroke="#000" stroke-width="0.3">N.G.L</text>
<text x="400.6" y="279.6" font-size="3.6" font-weight="bold" textLength="9.5" lengthAdjust="spacingAndGlyphs" stroke="#000" stroke-width="0.3">N.G.L</text>
<rect x="333.4" y="257.6" width="7.6" height="20.2" fill="#fff" stroke="#111" stroke-width="0.8"/>
<rect x="334.8" y="259.2" width="4.8" height="7.8" fill="none" stroke="#333" stroke-width="0.5"/>
<rect x="334.8" y="268.6" width="4.8" height="8" fill="none" stroke="#333" stroke-width="0.5"/>
<rect x="359.4" y="259.4" width="12.6" height="18.4" fill="#fff" stroke="#222" stroke-width="0.6"/>
<line x1="365.7" y1="259.4" x2="365.7" y2="277.8" stroke="#000" stroke-width="0.45"/>
<text x="337.4" y="255.8" font-size="2.6" font-weight="bold" text-anchor="middle" stroke="#000" stroke-width="0.35">Door to detail</text>
<text x="367" y="257.8" font-size="2.6" font-weight="bold" text-anchor="middle" stroke="#000" stroke-width="0.3">B.I.C</text>
<line x1="347" y1="252" x2="347" y2="259" stroke="#000" stroke-width="0.45"/>
<circle cx="347" cy="252.4" r="0.95" fill="#000" stroke="none" stroke-width="0.6"/>
<line x1="345" y1="252.4" x2="349" y2="252.4" stroke="#000" stroke-width="0.6"/>
<circle cx="347" cy="258.6" r="0.95" fill="#000" stroke="none" stroke-width="0.6"/>
<line x1="345" y1="258.6" x2="349" y2="258.6" stroke="#000" stroke-width="0.6"/>
<line x1="362" y1="252" x2="362" y2="259.4" stroke="#000" stroke-width="0.45"/>
<circle cx="362" cy="255.6" r="0.95" fill="#000" stroke="none" stroke-width="0.6"/>
<line x1="360" y1="255.6" x2="364" y2="255.6" stroke="#000" stroke-width="0.6"/>
<text x="308.7" y="263.2" font-size="4" font-weight="bold" textLength="15" lengthAdjust="spacingAndGlyphs" stroke="#000" stroke-width="0.28">LOUNGE</text>
<text x="375" y="263.2" font-size="4" font-weight="bold" textLength="15" lengthAdjust="spacingAndGlyphs" stroke="#000" stroke-width="0.28">MASTER</text>
<text x="375" y="268" font-size="4" font-weight="bold" textLength="18.6" lengthAdjust="spacingAndGlyphs" stroke="#000" stroke-width="0.28">BEDROOM</text>
<text x="303.4" y="272.6" font-size="3" font-weight="bold" textLength="15" lengthAdjust="spacingAndGlyphs" stroke="#000" stroke-width="0.4">Ceiling 2.6m</text>
<text x="305" y="275.8" font-size="2.7" font-weight="bold" textLength="11" lengthAdjust="spacingAndGlyphs" stroke="#000" stroke-width="0.4">FFL +0.300</text>
<polyline points="303,273.4 301,274.6 303,275.6" fill="none" stroke="#000" stroke-width="0.5"/>
<text x="300.4" y="253.4" font-size="2.1" font-weight="bold" stroke="#000" stroke-width="0.28">38x114 wall plate</text>
<rect x="310" y="287.5" width="2" height="5" fill="#222" stroke="none" stroke-width="0.7"/>
<text x="322.5" y="288" font-size="2.8" font-weight="bold" text-anchor="middle" textLength="18" lengthAdjust="spacingAndGlyphs" stroke="#000" stroke-width="0.45">75mm concrete surface bed</text>
<text x="322.5" y="291.2" font-size="2.8" font-weight="bold" text-anchor="middle" textLength="16" lengthAdjust="spacingAndGlyphs" stroke="#000" stroke-width="0.45">on 250 micron DPC on</text>
<text x="322.5" y="294.4" font-size="2.8" font-weight="bold" text-anchor="middle" textLength="23" lengthAdjust="spacingAndGlyphs" stroke="#000" stroke-width="0.45">well compacted hardcore filling</text>
<text x="322.5" y="297.6" font-size="2.8" font-weight="bold" text-anchor="middle" textLength="23" lengthAdjust="spacingAndGlyphs" stroke="#000" stroke-width="0.45">230mm brick foundation wall on</text>
<text x="322.5" y="300.8" font-size="2.8" font-weight="bold" text-anchor="middle" textLength="23" lengthAdjust="spacingAndGlyphs" stroke="#000" stroke-width="0.45">600x230 concrete strip footing</text>
<text x="322.5" y="304" font-size="2.8" font-weight="bold" text-anchor="middle" textLength="16" lengthAdjust="spacingAndGlyphs" stroke="#000" stroke-width="0.45">all to engineer detail</text>
<line x1="290.2" y1="297.5" x2="306.2" y2="297.5" stroke="#000" stroke-width="0.5"/>
<circle cx="294.2" cy="297.5" r="0.95" fill="#000" stroke="none" stroke-width="0.6"/>
<line x1="294.2" y1="295.5" x2="294.2" y2="299.5" stroke="#000" stroke-width="0.6"/>
<circle cx="302.2" cy="297.5" r="0.95" fill="#000" stroke="none" stroke-width="0.6"/>
<line x1="302.2" y1="295.5" x2="302.2" y2="299.5" stroke="#000" stroke-width="0.6"/>
<text x="298.2" y="296.4" font-size="3" font-weight="bold" text-anchor="middle" stroke="#000" stroke-width="0.3">600</text>
<line x1="348.8" y1="297.5" x2="364.8" y2="297.5" stroke="#000" stroke-width="0.5"/>
<circle cx="352.8" cy="297.5" r="0.95" fill="#000" stroke="none" stroke-width="0.6"/>
<line x1="352.8" y1="295.5" x2="352.8" y2="299.5" stroke="#000" stroke-width="0.6"/>
<circle cx="360.8" cy="297.5" r="0.95" fill="#000" stroke="none" stroke-width="0.6"/>
<line x1="360.8" y1="295.5" x2="360.8" y2="299.5" stroke="#000" stroke-width="0.6"/>
<text x="356.8" y="296.4" font-size="3" font-weight="bold" text-anchor="middle" stroke="#000" stroke-width="0.3">600</text>
<line x1="388.1" y1="297.5" x2="404.1" y2="297.5" stroke="#000" stroke-width="0.5"/>
<circle cx="392.1" cy="297.5" r="0.95" fill="#000" stroke="none" stroke-width="0.6"/>
<line x1="392.1" y1="295.5" x2="392.1" y2="299.5" stroke="#000" stroke-width="0.6"/>
<circle cx="400.1" cy="297.5" r="0.95" fill="#000" stroke="none" stroke-width="0.6"/>
<line x1="400.1" y1="295.5" x2="400.1" y2="299.5" stroke="#000" stroke-width="0.6"/>
<text x="396.1" y="296.4" font-size="3" font-weight="bold" text-anchor="middle" stroke="#000" stroke-width="0.3">600</text>
<line x1="279.5" y1="277" x2="279.5" y2="295" stroke="#000" stroke-width="0.5"/>
<circle cx="279.5" cy="280.2" r="0.95" fill="#000" stroke="none" stroke-width="0.6"/>
<line x1="277.5" y1="280.2" x2="281.5" y2="280.2" stroke="#000" stroke-width="0.6"/>
<circle cx="279.5" cy="290.5" r="0.95" fill="#000" stroke="none" stroke-width="0.6"/>
<line x1="277.5" y1="290.5" x2="281.5" y2="290.5" stroke="#000" stroke-width="0.6"/>
<text x="278.4" y="286" font-size="3" font-weight="bold" text-anchor="middle" transform="rotate(-90 278.4 286)" stroke="#000" stroke-width="0.3">850</text>
<line x1="306.5" y1="284" x2="306.5" y2="295" stroke="#000" stroke-width="0.5"/>
<circle cx="306.5" cy="288.5" r="0.95" fill="#000" stroke="none" stroke-width="0.6"/>
<line x1="304.5" y1="288.5" x2="308.5" y2="288.5" stroke="#000" stroke-width="0.6"/>
<circle cx="306.5" cy="290.5" r="0.95" fill="#000" stroke="none" stroke-width="0.6"/>
<line x1="304.5" y1="290.5" x2="308.5" y2="290.5" stroke="#000" stroke-width="0.6"/>
<line x1="345" y1="280" x2="345" y2="294" stroke="#000" stroke-width="0.5"/>
<circle cx="345" cy="281.5" r="0.95" fill="#000" stroke="none" stroke-width="0.6"/>
<line x1="343" y1="281.5" x2="347" y2="281.5" stroke="#000" stroke-width="0.6"/>
<circle cx="345" cy="290.5" r="0.95" fill="#000" stroke="none" stroke-width="0.6"/>
<line x1="343" y1="290.5" x2="347" y2="290.5" stroke="#000" stroke-width="0.6"/>
<text x="344" y="287" font-size="2.6" font-weight="bold" text-anchor="middle" transform="rotate(-90 344 287)" stroke="#000" stroke-width="0.28">230</text>
<line x1="415" y1="254" x2="415" y2="294" stroke="#000" stroke-width="0.5"/>
<circle cx="415" cy="256" r="0.95" fill="#000" stroke="none" stroke-width="0.6"/>
<line x1="413" y1="256" x2="417" y2="256" stroke="#000" stroke-width="0.6"/>
<circle cx="415" cy="280.2" r="0.95" fill="#000" stroke="none" stroke-width="0.6"/>
<line x1="413" y1="280.2" x2="417" y2="280.2" stroke="#000" stroke-width="0.6"/>
<circle cx="415" cy="292.5" r="0.95" fill="#000" stroke="none" stroke-width="0.6"/>
<line x1="413" y1="292.5" x2="417" y2="292.5" stroke="#000" stroke-width="0.6"/>
<line x1="405.5" y1="280" x2="405.5" y2="293" stroke="#000" stroke-width="0.45"/>
<circle cx="405.5" cy="283" r="0.95" fill="#000" stroke="none" stroke-width="0.6"/>
<line x1="403.5" y1="283" x2="407.5" y2="283" stroke="#000" stroke-width="0.6"/>
<circle cx="405.5" cy="290.5" r="0.95" fill="#000" stroke="none" stroke-width="0.6"/>
<line x1="403.5" y1="290.5" x2="407.5" y2="290.5" stroke="#000" stroke-width="0.6"/>
<text x="413.8" y="268.5" font-size="3" font-weight="bold" text-anchor="middle" transform="rotate(-90 413.8 268.5)" stroke="#000" stroke-width="0.3">2600</text>
<text x="413.8" y="287" font-size="2.6" font-weight="bold" text-anchor="middle" transform="rotate(-90 413.8 287)" stroke="#000" stroke-width="0.28">850</text>
<text x="342" y="318.1" font-size="10.2" font-weight="bold" text-anchor="middle" textLength="114" lengthAdjust="spacingAndGlyphs" stroke="#000" stroke-width="0.6">SECTION A-A - SCALE 1:100</text>
<line x1="345.5" y1="350.2" x2="493" y2="350.2" stroke="#333" stroke-width="0.55"/>
<line x1="345.5" y1="410" x2="493" y2="410" stroke="#333" stroke-width="0.55"/>
<line x1="348.8" y1="334" x2="348.8" y2="433" stroke="#333" stroke-width="0.55"/>
<line x1="488" y1="336" x2="488" y2="432" stroke="#333" stroke-width="0.55"/>
<line x1="329.3" y1="334" x2="329.3" y2="433" stroke="#333" stroke-width="0.55"/>
<circle cx="349" cy="350" r="1.7" fill="#fff" stroke="#222" stroke-width="0.5"/>
<circle cx="349" cy="410" r="1.7" fill="#fff" stroke="#222" stroke-width="0.5"/>
<circle cx="488" cy="350" r="1.7" fill="#fff" stroke="#222" stroke-width="0.5"/>
<circle cx="488" cy="410" r="1.7" fill="#fff" stroke="#222" stroke-width="0.5"/>
<line x1="349" y1="354" x2="488" y2="354" stroke="#666" stroke-width="0.35" stroke-dasharray="1.5 1"/>
<line x1="349" y1="406" x2="488" y2="406" stroke="#666" stroke-width="0.35" stroke-dasharray="1.5 1"/>
<polygon points="374,357.2 473.4,357.2 473.4,403.6 365.2,403.6 365.2,374 374,374" fill="url(#sh)" stroke="#c00f16" stroke-width="0.6"/>
<rect x="428" y="357.2" width="8" height="6.3" fill="#fff" stroke="#222" stroke-width="0.5"/>
<rect x="430" y="359" width="2.2" height="3" fill="#222" stroke="none" stroke-width="0.7"/>
<line x1="374" y1="355.6" x2="473.4" y2="355.6" stroke="#e8222a" stroke-width="0.5" stroke-dasharray="2 1.2"/>
<line x1="475" y1="355.6" x2="475" y2="404" stroke="#e8222a" stroke-width="0.5" stroke-dasharray="2 1.2"/>
<line x1="436" y1="358" x2="445" y2="352" stroke="#e8222a" stroke-width="0.5" stroke-dasharray="1.5 1"/>
<line x1="473" y1="357" x2="482" y2="352" stroke="#e8222a" stroke-width="0.6" stroke-dasharray="1.5 1"/>
<circle cx="481.5" cy="351.6" r="1.3" fill="#222" stroke="none" stroke-width="0.6"/>
<rect x="397" y="374.2" width="54" height="10.2" fill="#fff" stroke="none" stroke-width="0.7"/>
<text x="398.5" y="379.2" font-size="4.6" font-weight="bold" textLength="44" lengthAdjust="spacingAndGlyphs" stroke="#000" stroke-width="0.28">STAND No ........</text>
<text x="397.5" y="383.8" font-size="3.9" font-weight="bold" textLength="53" lengthAdjust="spacingAndGlyphs" stroke="#000" stroke-width="0.28">PROPOSED MAIN HOUSE</text>
<line x1="380" y1="366" x2="400" y2="366" stroke="#3a0808" stroke-width="1"/>
<polygon points="383.4,364.3 380,366 383.4,367.7" fill="#3a0808" stroke="#3a0808" stroke-width="0.7"/>
<text x="386" y="365.2" font-size="2.6" font-weight="bold" fill="#3a0808" stroke="#3a0808" stroke-width="0.28">1:50 fall</text>
<line x1="380" y1="397.6" x2="400" y2="397.6" stroke="#3a0808" stroke-width="1"/>
<polygon points="383.4,395.9 380,397.6 383.4,399.3" fill="#3a0808" stroke="#3a0808" stroke-width="0.7"/>
<text x="386" y="396.8" font-size="2.6" font-weight="bold" fill="#3a0808" stroke="#3a0808" stroke-width="0.28">1:50 fall</text>
<line x1="444" y1="366" x2="464" y2="366" stroke="#3a0808" stroke-width="1"/>
<polygon points="447.4,364.3 444,366 447.4,367.7" fill="#3a0808" stroke="#3a0808" stroke-width="0.7"/>
<text x="450" y="365.2" font-size="2.6" font-weight="bold" fill="#3a0808" stroke="#3a0808" stroke-width="0.28">1:50 fall</text>
<line x1="444" y1="397.6" x2="464" y2="397.6" stroke="#3a0808" stroke-width="1"/>
<polygon points="447.4,395.9 444,397.6 447.4,399.3" fill="#3a0808" stroke="#3a0808" stroke-width="0.7"/>
<text x="450" y="396.8" font-size="2.6" font-weight="bold" fill="#3a0808" stroke="#3a0808" stroke-width="0.28">1:50 fall</text>
<text x="394.6" y="339.2" font-size="5.4" font-weight="bold" textLength="38.5" lengthAdjust="spacingAndGlyphs" stroke="#000" stroke-width="0.28">STAND No ......</text>
<text x="400" y="347.6" font-size="5.4" font-weight="bold" textLength="30.8" lengthAdjust="spacingAndGlyphs" stroke="#000" stroke-width="0.28">25 METERS</text>
<text x="388.5" y="356.6" font-size="3.4" font-weight="bold" textLength="17" lengthAdjust="spacingAndGlyphs" stroke="#000" stroke-width="0.28">1.5m B.L.</text>
<text x="412" y="407.8" font-size="3.4" font-weight="bold" textLength="18" lengthAdjust="spacingAndGlyphs" stroke="#000" stroke-width="0.28">1.5m B.L.</text>
<text x="406.6" y="415.8" font-size="5.4" font-weight="bold" textLength="30.8" lengthAdjust="spacingAndGlyphs" stroke="#000" stroke-width="0.28">25 METERS</text>
<text x="397" y="426" font-size="5.4" font-weight="bold" textLength="43" lengthAdjust="spacingAndGlyphs" stroke="#000" stroke-width="0.28">STAND No ......</text>
<text x="421.8" y="441.2" font-size="9" font-weight="bold" text-anchor="middle" textLength="62.4" lengthAdjust="spacingAndGlyphs" stroke="#000" stroke-width="0.55">SITE PLAN 1:200</text>
<text x="340.6" y="377.5" font-size="5" font-weight="bold" text-anchor="middle" transform="rotate(-90 340.6 377.5)" textLength="15" lengthAdjust="spacingAndGlyphs" stroke="#000" stroke-width="0.28">ROAD</text>
<text x="354.8" y="378" font-size="5" font-weight="bold" text-anchor="middle" transform="rotate(-90 354.8 378)" textLength="27.5" lengthAdjust="spacingAndGlyphs" stroke="#000" stroke-width="0.28">12 METRES</text>
<text x="363.8" y="378.6" font-size="3.2" font-weight="bold" text-anchor="middle" transform="rotate(-90 363.8 378.6)" textLength="13" lengthAdjust="spacingAndGlyphs" stroke="#000" stroke-width="0.28">2m B.L.</text>
<text x="494.8" y="384" font-size="5" font-weight="bold" text-anchor="middle" transform="rotate(-90 494.8 384)" textLength="29" lengthAdjust="spacingAndGlyphs" stroke="#000" stroke-width="0.28">12 METRES</text>
<text x="506.8" y="386" font-size="5" font-weight="bold" text-anchor="middle" transform="rotate(-90 506.8 386)" textLength="36" lengthAdjust="spacingAndGlyphs" stroke="#000" stroke-width="0.28">STAND No ......</text>
<text x="482" y="377" font-size="3.4" font-weight="bold" text-anchor="middle" transform="rotate(-90 482 377)" textLength="17" lengthAdjust="spacingAndGlyphs" stroke="#000" stroke-width="0.28">1.5m B.L.</text>
<rect x="372.2" y="350.6" width="1.6" height="3.2" fill="#222" stroke="none" stroke-width="0.7"/>
<rect x="435.2" y="350.6" width="1.6" height="3.2" fill="#222" stroke="none" stroke-width="0.7"/>
<rect x="454.2" y="410.4" width="1.6" height="3.2" fill="#222" stroke="none" stroke-width="0.7"/>
<rect x="407.2" y="350.6" width="1.6" height="3.2" fill="#222" stroke="none" stroke-width="0.7"/>
<rect x="359.6" y="360.1" width="2.8" height="1.8" fill="#222" stroke="none" stroke-width="0.7"/>
<rect x="359.6" y="399.1" width="2.8" height="1.8" fill="#222" stroke="none" stroke-width="0.7"/>
<rect x="478.2" y="388.1" width="2.8" height="1.8" fill="#222" stroke="none" stroke-width="0.7"/>
<rect x="478.2" y="398.1" width="2.8" height="1.8" fill="#222" stroke="none" stroke-width="0.7"/>
<line x1="362.5" y1="357" x2="362.5" y2="404" stroke="#555" stroke-width="0.35"/>
<line x1="357" y1="357.2" x2="366" y2="357.2" stroke="#555" stroke-width="0.35"/>
<line x1="357" y1="403.6" x2="366" y2="403.6" stroke="#555" stroke-width="0.35"/>
<line x1="480.5" y1="355" x2="480.5" y2="404" stroke="#555" stroke-width="0.35"/>
<line x1="488" y1="415" x2="484" y2="420" stroke="#000" stroke-width="0.4"/>
<line x1="488" y1="415" x2="492" y2="420" stroke="#000" stroke-width="0.4"/>
<line x1="490" y1="355" x2="502" y2="355" stroke="#000" stroke-width="0.4" stroke-dasharray="1.5 1"/>
<line x1="490" y1="406.5" x2="502" y2="406.5" stroke="#000" stroke-width="0.4" stroke-dasharray="1.5 1"/>
<rect x="486.6" y="355.5" width="2.8" height="1.5" fill="#222" stroke="none" stroke-width="0.7"/>
<rect x="486.6" y="403.6" width="2.8" height="1.5" fill="#222" stroke="none" stroke-width="0.7"/>
<line x1="550.5" y1="360.5" x2="550.5" y2="400.8" stroke="#333" stroke-width="0.7"/>
<polygon points="550.5,372 551.6,398.3 550.5,400.8 549.4,398.3" fill="#333" stroke="none" stroke-width="0.7"/>
<polygon points="550.5,418.2 551.5,403.3 550.5,400.8 549.5,403.3" fill="#333" stroke="none" stroke-width="0.7"/>
<polygon points="536.7,400.8 548,399.9 550.5,400.8 548,401.7" fill="#333" stroke="none" stroke-width="0.7"/>
<polygon points="564.3,400.8 553,399.9 550.5,400.8 553,401.7" fill="#333" stroke="none" stroke-width="0.7"/>
<line x1="550.5" y1="400.8" x2="542.9" y2="394.4" stroke="#444" stroke-width="0.55"/>
<polygon points="546.32,397.28 551.14,400.04 549.86,401.56" fill="#444" stroke="none" stroke-width="0.7"/>
<line x1="550.5" y1="400.8" x2="558.1" y2="394.4" stroke="#444" stroke-width="0.55"/>
<polygon points="554.68,397.28 551.14,401.56 549.86,400.04" fill="#444" stroke="none" stroke-width="0.7"/>
<line x1="550.5" y1="400.8" x2="542.9" y2="407.8" stroke="#444" stroke-width="0.55"/>
<polygon points="546.32,404.65 549.8,400.04 551.2,401.56" fill="#444" stroke="none" stroke-width="0.7"/>
<line x1="550.5" y1="400.8" x2="558.1" y2="407.8" stroke="#444" stroke-width="0.55"/>
<polygon points="554.68,404.65 549.8,401.56 551.2,400.04" fill="#444" stroke="none" stroke-width="0.7"/>
<circle cx="550.5" cy="400.8" r="0.9" fill="#fff" stroke="#333" stroke-width="0.35"/>
<text x="550.5" y="360.2" font-size="2.8" font-weight="bold" text-anchor="middle" stroke="#000" stroke-width="0.1">TN</text>
<circle cx="488" cy="405.6" r="1.6" fill="#fff" stroke="#222" stroke-width="0.45"/>
<text x="468.4" y="6.9" font-size="6.37" text-anchor="middle" fill="#222" textLength="38" lengthAdjust="spacingAndGlyphs">BOUNDARY WALL</text>
<rect x="346" y="25" width="157" height="21" fill="none" stroke="#222" stroke-width="0.6"/>
<rect x="346" y="24.4" width="4.6" height="21.6" fill="#fff" stroke="#222" stroke-width="0.55"/>
<line x1="348.3" y1="24.4" x2="348.3" y2="46" stroke="#444" stroke-width="0.4"/>
<rect x="396.5" y="24.4" width="4.6" height="21.6" fill="#fff" stroke="#222" stroke-width="0.55"/>
<line x1="398.8" y1="24.4" x2="398.8" y2="46" stroke="#444" stroke-width="0.4"/>
<rect x="447.8" y="24.4" width="4.6" height="21.6" fill="#fff" stroke="#222" stroke-width="0.55"/>
<line x1="450.1" y1="24.4" x2="450.1" y2="46" stroke="#444" stroke-width="0.4"/>
<rect x="498.6" y="24.4" width="4.6" height="21.6" fill="#fff" stroke="#222" stroke-width="0.55"/>
<line x1="500.9" y1="24.4" x2="500.9" y2="46" stroke="#444" stroke-width="0.4"/>
<line x1="340" y1="46" x2="346" y2="46" stroke="#000" stroke-width="0.6"/>
<line x1="503" y1="46" x2="509" y2="46" stroke="#000" stroke-width="0.6"/>
<text x="340" y="45.4" font-size="2.2" font-weight="bold" stroke="#000" stroke-width="0.28">NGL</text>
<text x="504.5" y="45.4" font-size="2.2" font-weight="bold" stroke="#000" stroke-width="0.28">NGL</text>
<polyline points="407,18 422.5,34.5 429,32.5 419,39.5 425.5,37.5 441,54" fill="none" stroke="#222" stroke-width="0.55"/>
<polyline points="416.5,18 430.75,33 437.25,31 427.25,38 433.75,36 448,51" fill="none" stroke="#222" stroke-width="0.45"/>
<text x="326" y="20.2" font-size="2.3" font-weight="bold" stroke="#000" stroke-width="0.28">25mm expansion joint</text>
<text x="326" y="22.6" font-size="2.3" font-weight="bold" stroke="#000" stroke-width="0.28">filled with mastic</text>
<line x1="345" y1="21" x2="347.5" y2="24.5" stroke="#000" stroke-width="0.4"/>
<text x="359" y="20.8" font-size="2.3" font-weight="bold" stroke="#000" stroke-width="0.28">smooth plaster</text>
<line x1="372" y1="21" x2="381" y2="30" stroke="#000" stroke-width="0.4"/>
<text x="427.5" y="20.2" font-size="2.3" font-weight="bold" stroke="#000" stroke-width="0.28">25mm expansion joint</text>
<text x="427.5" y="22.6" font-size="2.3" font-weight="bold" stroke="#000" stroke-width="0.28">filled with mastic</text>
<line x1="447" y1="21" x2="449.4" y2="24.5" stroke="#000" stroke-width="0.4"/>
<text x="464" y="16.4" font-size="2.3" font-weight="bold" stroke="#000" stroke-width="0.28">brick coping</text>
<polyline points="463.5,17.4 483.6,17.4 483.6,25" fill="none" stroke="#000" stroke-width="0.45"/>
<text x="367.5" y="59.6" font-size="6.89" fill="#222" textLength="117" lengthAdjust="spacingAndGlyphs">TYPICAL SIDE WALL INTERNAL ELEVATION   (1 :100  )</text>
<line x1="362.5" y1="61.2" x2="486.5" y2="61.2" stroke="#000" stroke-width="0.5"/>
<rect x="359.4" y="76" width="101.2" height="21.5" fill="none" stroke="#222" stroke-width="0.6"/>
<line x1="410" y1="76" x2="410" y2="97.5" stroke="#222" stroke-width="0.55"/>
<line x1="359.4" y1="77.2" x2="460.6" y2="77.2" stroke="#555" stroke-width="0.35"/>
<circle cx="410" cy="76" r="0.9" fill="#222" stroke="none" stroke-width="0.6"/>
<circle cx="359.4" cy="76" r="0.8" fill="#222" stroke="none" stroke-width="0.6"/>
<circle cx="460.6" cy="76" r="0.8" fill="#222" stroke="none" stroke-width="0.6"/>
<line x1="340" y1="97.5" x2="359.4" y2="97.5" stroke="#000" stroke-width="0.6"/>
<line x1="460.6" y1="97.5" x2="506" y2="97.5" stroke="#000" stroke-width="0.6"/>
<text x="342" y="96.8" font-size="2.2" font-weight="bold" stroke="#000" stroke-width="0.28">NGL</text>
<text x="499" y="96.8" font-size="2.2" font-weight="bold" stroke="#000" stroke-width="0.28">NGL</text>
<polyline points="332.5,70 341.75,85.5 348.25,83.5 338.25,90.5 344.75,88.5 354,104" fill="none" stroke="#222" stroke-width="0.55"/>
<polyline points="476,71 486,86 492.5,84 482.5,91 489,89 499,104" fill="none" stroke="#222" stroke-width="0.55"/>
<text x="336" y="71" font-size="2.3" font-weight="bold" stroke="#000" stroke-width="0.28">25mm expansion joint</text>
<text x="336" y="73.4" font-size="2.3" font-weight="bold" stroke="#000" stroke-width="0.28">filled with mastic</text>
<line x1="356" y1="73" x2="359.2" y2="76" stroke="#000" stroke-width="0.4"/>
<text x="371" y="73.4" font-size="2.3" font-weight="bold" stroke="#000" stroke-width="0.28">smooth plaster</text>
<line x1="383.6" y1="73.8" x2="391.6" y2="81.4" stroke="#000" stroke-width="0.4"/>
<text x="406.4" y="67.6" font-size="2.3" font-weight="bold" stroke="#000" stroke-width="0.28">coping</text>
<polyline points="406,68.4 424.4,68.4 424.4,76" fill="none" stroke="#000" stroke-width="0.45"/>
<text x="437.5" y="71" font-size="2.3" font-weight="bold" stroke="#000" stroke-width="0.28">25mm expansion joint</text>
<text x="437.5" y="73.4" font-size="2.3" font-weight="bold" stroke="#000" stroke-width="0.28">filled with mastic</text>
<line x1="456.6" y1="73" x2="460.4" y2="76" stroke="#000" stroke-width="0.4"/>
<text x="365.5" y="107.4" font-size="6.89" fill="#222" textLength="117.5" lengthAdjust="spacingAndGlyphs">TYPICAL SIDE WALL EXTERNAL ELEVATION   (1 :100  )</text>
<line x1="362" y1="109" x2="485" y2="109" stroke="#000" stroke-width="0.5"/>
<line x1="329" y1="150.5" x2="474" y2="150.5" stroke="#000" stroke-width="0.7"/>
<text x="329.5" y="149.8" font-size="2.1" font-weight="bold" stroke="#000" stroke-width="0.28">NGL</text>
<text x="468.5" y="149.8" font-size="2.1" font-weight="bold" stroke="#000" stroke-width="0.28">NGL</text>
<rect x="340.5" y="131" width="53.5" height="19.5" fill="#fff" stroke="#222" stroke-width="0.55"/>
<rect x="337.2" y="129.6" width="3.6" height="20.9" fill="#fff" stroke="#222" stroke-width="0.55"/>
<line x1="336.6" y1="129.6" x2="341.4" y2="129.6" stroke="#000" stroke-width="0.7"/>
<rect x="364.8" y="129.6" width="3.2" height="20.9" fill="#fff" stroke="#222" stroke-width="0.55"/>
<line x1="364.2" y1="129.6" x2="368.6" y2="129.6" stroke="#000" stroke-width="0.7"/>
<rect x="393.2" y="129.6" width="2.6" height="20.9" fill="#fff" stroke="#222" stroke-width="0.55"/>
<line x1="392.6" y1="129.6" x2="396.4" y2="129.6" stroke="#000" stroke-width="0.7"/>
<rect x="343" y="135.6" width="17.4" height="13.4" fill="#fff" stroke="#222" stroke-width="0.6"/>
<rect x="371" y="135.6" width="17" height="13.4" fill="#fff" stroke="#222" stroke-width="0.6"/>
<rect x="344.6" y="148.6" width="4.4" height="1.9" fill="#222" stroke="none" stroke-width="0.7"/>
<rect x="354.6" y="148.6" width="4.4" height="1.9" fill="#222" stroke="none" stroke-width="0.7"/>
<rect x="372.6" y="148.6" width="4.4" height="1.9" fill="#222" stroke="none" stroke-width="0.7"/>
<rect x="382" y="148.6" width="4.4" height="1.9" fill="#222" stroke="none" stroke-width="0.7"/>
<rect x="396" y="131.4" width="14" height="18" fill="#fff" stroke="#222" stroke-width="0.7"/>
<rect x="397.2" y="132.6" width="11.6" height="15.8" fill="none" stroke="#555" stroke-width="0.35"/>
<line x1="407.6" y1="139" x2="407.6" y2="142" stroke="#000" stroke-width="0.5"/>
<path d="M413 150v-7.5q0-2 2-2.4l2.6-4q0.6-1 2-1h9.6q1.4 0 2 1l2.6 4q2 0.4 2 2.4v7.5z" fill="#f2f2f2" stroke="#9a9a9a" stroke-width="0.6"/>
<path d="M416.4 140.2l1.8-3q0.4-0.6 1.2-0.6h10q0.8 0 1.2 0.6l1.8 3z" fill="#fff" stroke="#aaa" stroke-width="0.5"/>
<line x1="413.5" y1="143.8" x2="435.5" y2="143.8" stroke="#aaa" stroke-width="0.5"/>
<rect x="419.5" y="144.8" width="10" height="2.8" fill="#e4e4e4" stroke="#aaa" stroke-width="0.4"/>
<circle cx="416" cy="145.6" r="1" fill="none" stroke="#aaa" stroke-width="0.4"/>
<circle cx="433" cy="145.6" r="1" fill="none" stroke="#aaa" stroke-width="0.4"/>
<rect x="443.4" y="131" width="17.6" height="19.5" fill="#fff" stroke="#222" stroke-width="0.55"/>
<rect x="440" y="129.6" width="3.6" height="20.9" fill="#fff" stroke="#222" stroke-width="0.55"/>
<line x1="439.4" y1="129.6" x2="444.2" y2="129.6" stroke="#000" stroke-width="0.7"/>
<rect x="461" y="129.6" width="5.6" height="20.9" fill="#fff" stroke="#222" stroke-width="0.55"/>
<line x1="460.4" y1="129.6" x2="467.2" y2="129.6" stroke="#000" stroke-width="0.7"/>
<rect x="447.4" y="135.6" width="13" height="13.4" fill="#fff" stroke="#222" stroke-width="0.6"/>
<rect x="451.6" y="148.4" width="4.8" height="2.1" fill="#222" stroke="none" stroke-width="0.7"/>
<text x="341" y="121.6" font-size="2.3" font-weight="bold" stroke="#000" stroke-width="0.28">coping</text>
<polyline points="340.8,123 361.2,123 361.2,131" fill="none" stroke="#000" stroke-width="0.45"/>
<text x="369" y="124" font-size="2.3" font-weight="bold" stroke="#000" stroke-width="0.28">25mm expansion joint</text>
<text x="369" y="126.4" font-size="2.3" font-weight="bold" stroke="#000" stroke-width="0.28">filled with mastic</text>
<line x1="366.2" y1="122.2" x2="366.2" y2="131" stroke="#000" stroke-width="0.45"/>
<line x1="366.2" y1="122.2" x2="369" y2="122.2" stroke="#000" stroke-width="0.45"/>
<text x="399" y="128" font-size="2.2" font-weight="bold" stroke="#000" stroke-width="0.28">2m Wide pedestrian gate to detail</text>
<text x="345.3" y="160.8" font-size="6.89" fill="#222" textLength="104.7" lengthAdjust="spacingAndGlyphs">FRONT WALL EXTERNAL ELEVATION   (1 :100  )</text>
<line x1="340.2" y1="162.4" x2="452.6" y2="162.4" stroke="#000" stroke-width="0.5"/>
<line x1="347.5" y1="179.4" x2="459.5" y2="179.4" stroke="#222" stroke-width="0.6" stroke-dasharray="3 1.8"/>
<polygon points="349.8,181.6 458.3,181.6 459.4,185.2 350.9,185.2" fill="url(#xh)" stroke="#7a0c12" stroke-width="0.5"/>
<rect x="358" y="181.6" width="4.7" height="6" fill="url(#xh)" stroke="#6a0a0e" stroke-width="0.55"/>
<rect x="402.3" y="181.6" width="3.5" height="6" fill="url(#xh)" stroke="#6a0a0e" stroke-width="0.55"/>
<rect x="449" y="181.6" width="4.7" height="6" fill="url(#xh)" stroke="#6a0a0e" stroke-width="0.55"/>
<rect x="374.6" y="185.6" width="2" height="3" fill="none" stroke="#222" stroke-width="0.6"/>
<rect x="388.6" y="185.6" width="2" height="3" fill="none" stroke="#222" stroke-width="0.6"/>
<rect x="420.4" y="185.6" width="2" height="3" fill="none" stroke="#222" stroke-width="0.6"/>
<line x1="404.2" y1="172.8" x2="404.2" y2="200.8" stroke="#000" stroke-width="0.6"/>
<polyline points="404.2,177.4 408.2,175.4 404.2,173.4" fill="none" stroke="#000" stroke-width="0.5"/>
<polyline points="404.2,192.6 408.2,195 404.2,197.4" fill="none" stroke="#000" stroke-width="0.5"/>
<text x="408" y="176.4" font-size="9.6" fill="#222" textLength="4.8" lengthAdjust="spacingAndGlyphs">Y</text>
<text x="407" y="200.8" font-size="7.6" fill="#222" textLength="3.6" lengthAdjust="spacingAndGlyphs">Y</text>
<text x="351" y="177.8" font-size="2.2" font-weight="bold" stroke="#000" stroke-width="0.28">boundary line</text>
<text x="434" y="177.8" font-size="2.2" font-weight="bold" stroke="#000" stroke-width="0.28">boundary line</text>
<text x="380" y="178.2" font-size="2.2" font-weight="bold" stroke="#000" stroke-width="0.28">wall</text>
<text x="367.4" y="194.2" font-size="2.3" font-weight="bold" stroke="#000" stroke-width="0.28">230 x 460 brick pier</text>
<text x="367.4" y="196.6" font-size="2.3" font-weight="bold" stroke="#000" stroke-width="0.28">460 x 460 at joints</text>
<text x="414" y="194.2" font-size="2.3" font-weight="bold" stroke="#000" stroke-width="0.28">25mm expansion joint</text>
<text x="414" y="196.6" font-size="2.3" font-weight="bold" stroke="#000" stroke-width="0.28">filled with mastic</text>
<line x1="361.6" y1="187" x2="367.4" y2="192.6" stroke="#000" stroke-width="0.5"/>
<polyline points="360.4,186.6 362.6,191.4 365,186.6" fill="none" stroke="#000" stroke-width="0.5"/>
<line x1="405.8" y1="186.2" x2="414" y2="192.6" stroke="#000" stroke-width="0.5"/>
<line x1="351" y1="204.6" x2="460" y2="204.6" stroke="#000" stroke-width="0.5"/>
<line x1="352" y1="203.3" x2="352" y2="205.9" stroke="#000" stroke-width="0.5"/>
<line x1="351.1" y1="205.5" x2="352.9" y2="203.7" stroke="#000" stroke-width="0.55"/>
<circle cx="352" cy="204.6" r="0.45" fill="#111" stroke="none" stroke-width="0.6"/>
<line x1="360" y1="203.3" x2="360" y2="205.9" stroke="#000" stroke-width="0.5"/>
<line x1="359.1" y1="205.5" x2="360.9" y2="203.7" stroke="#000" stroke-width="0.55"/>
<circle cx="360" cy="204.6" r="0.45" fill="#111" stroke="none" stroke-width="0.6"/>
<line x1="404" y1="203.3" x2="404" y2="205.9" stroke="#000" stroke-width="0.5"/>
<line x1="403.1" y1="205.5" x2="404.9" y2="203.7" stroke="#000" stroke-width="0.55"/>
<circle cx="404" cy="204.6" r="0.45" fill="#111" stroke="none" stroke-width="0.6"/>
<line x1="412" y1="203.3" x2="412" y2="205.9" stroke="#000" stroke-width="0.5"/>
<line x1="411.1" y1="205.5" x2="412.9" y2="203.7" stroke="#000" stroke-width="0.55"/>
<circle cx="412" cy="204.6" r="0.45" fill="#111" stroke="none" stroke-width="0.6"/>
<line x1="451" y1="203.3" x2="451" y2="205.9" stroke="#000" stroke-width="0.5"/>
<line x1="450.1" y1="205.5" x2="451.9" y2="203.7" stroke="#000" stroke-width="0.55"/>
<circle cx="451" cy="204.6" r="0.45" fill="#111" stroke="none" stroke-width="0.6"/>
<line x1="459" y1="203.3" x2="459" y2="205.9" stroke="#000" stroke-width="0.5"/>
<line x1="458.1" y1="205.5" x2="459.9" y2="203.7" stroke="#000" stroke-width="0.55"/>
<circle cx="459" cy="204.6" r="0.45" fill="#111" stroke="none" stroke-width="0.6"/>
<text x="354" y="203.2" font-size="2.5" font-weight="bold" text-anchor="middle" stroke="#000" stroke-width="0.28">460</text>
<text x="382" y="203.2" font-size="2.5" font-weight="bold" text-anchor="middle" stroke="#000" stroke-width="0.28">3,500</text>
<text x="406.6" y="203.2" font-size="2.5" font-weight="bold" text-anchor="middle" stroke="#000" stroke-width="0.28">460</text>
<text x="431" y="203.2" font-size="2.5" font-weight="bold" text-anchor="middle" stroke="#000" stroke-width="0.28">3,500</text>
<text x="453" y="203.2" font-size="2.5" font-weight="bold" text-anchor="middle" stroke="#000" stroke-width="0.28">460</text>
<text x="355.5" y="218" font-size="6.24" fill="#222" textLength="89.5" lengthAdjust="spacingAndGlyphs">TYPICAL SIDE/BACK FLOOR PLAN   (1  :100)</text>
<line x1="354" y1="219.4" x2="446.5" y2="219.4" stroke="#000" stroke-width="0.5"/>
<line x1="540.5" y1="15" x2="540.5" y2="88" stroke="#555" stroke-width="0.45" stroke-dasharray="1.6 1.2"/>
<text x="539" y="46" font-size="2.6" font-weight="bold" text-anchor="middle" transform="rotate(-90 539 46)" stroke="#000" stroke-width="0.28">Boundary line</text>
<rect x="546.2" y="70" width="16.1" height="10.7" fill="#d2d2d2" stroke="none" stroke-width="0.7"/>
<rect x="550" y="27.4" width="7.6" height="53" fill="url(#rh2)" stroke="#8a0c12" stroke-width="0.45"/>
<line x1="547.2" y1="27" x2="547.2" y2="80.4" stroke="#333" stroke-width="0.5"/>
<line x1="547.2" y1="48" x2="550" y2="48" stroke="#000" stroke-width="0.35"/>
<rect x="546" y="25.6" width="13" height="1.8" fill="#fff" stroke="#222" stroke-width="0.5"/>
<rect x="546.9" y="80.7" width="15.4" height="4.9" fill="#7ed28e" stroke="#1c7a32" stroke-width="0.5"/>
<line x1="548" y1="83.2" x2="561.6" y2="83.2" stroke="#1c6a2c" stroke-width="1.2" stroke-dasharray="1.2 1"/>
<line x1="526" y1="69.6" x2="590" y2="69.6" stroke="#000" stroke-width="0.6"/>
<text x="529" y="68.8" font-size="2.3" font-weight="bold" stroke="#000" stroke-width="0.28">N.G.L</text>
<text x="580" y="68.8" font-size="2.3" font-weight="bold" stroke="#000" stroke-width="0.28">N.G.L</text>
<text x="565" y="15.4" font-size="2.2" font-weight="bold" stroke="#000" stroke-width="0.28">brick coping</text>
<polyline points="575,17.6 554,17.6 554,25.6" fill="none" stroke="#000" stroke-width="0.45"/>
<line x1="567.6" y1="26" x2="567.6" y2="86.4" stroke="#000" stroke-width="0.45"/>
<line x1="574" y1="26" x2="574" y2="86.4" stroke="#000" stroke-width="0.45"/>
<line x1="566.3" y1="26" x2="568.9" y2="26" stroke="#000" stroke-width="0.5"/>
<line x1="566.7" y1="26.9" x2="568.5" y2="25.1" stroke="#000" stroke-width="0.55"/>
<circle cx="567.6" cy="26" r="0.45" fill="#111" stroke="none" stroke-width="0.6"/>
<line x1="566.3" y1="41" x2="568.9" y2="41" stroke="#000" stroke-width="0.5"/>
<line x1="566.7" y1="41.9" x2="568.5" y2="40.1" stroke="#000" stroke-width="0.55"/>
<circle cx="567.6" cy="41" r="0.45" fill="#111" stroke="none" stroke-width="0.6"/>
<line x1="566.3" y1="69.6" x2="568.9" y2="69.6" stroke="#000" stroke-width="0.5"/>
<line x1="566.7" y1="70.5" x2="568.5" y2="68.7" stroke="#000" stroke-width="0.55"/>
<circle cx="567.6" cy="69.6" r="0.45" fill="#111" stroke="none" stroke-width="0.6"/>
<line x1="566.3" y1="80.6" x2="568.9" y2="80.6" stroke="#000" stroke-width="0.5"/>
<line x1="566.7" y1="81.5" x2="568.5" y2="79.7" stroke="#000" stroke-width="0.55"/>
<circle cx="567.6" cy="80.6" r="0.45" fill="#111" stroke="none" stroke-width="0.6"/>
<line x1="566.3" y1="86" x2="568.9" y2="86" stroke="#000" stroke-width="0.5"/>
<line x1="566.7" y1="86.9" x2="568.5" y2="85.1" stroke="#000" stroke-width="0.55"/>
<circle cx="567.6" cy="86" r="0.45" fill="#111" stroke="none" stroke-width="0.6"/>
<line x1="572.7" y1="26" x2="575.3" y2="26" stroke="#000" stroke-width="0.5"/>
<line x1="573.1" y1="26.9" x2="574.9" y2="25.1" stroke="#000" stroke-width="0.55"/>
<circle cx="574" cy="26" r="0.45" fill="#111" stroke="none" stroke-width="0.6"/>
<line x1="572.7" y1="69.6" x2="575.3" y2="69.6" stroke="#000" stroke-width="0.5"/>
<line x1="573.1" y1="70.5" x2="574.9" y2="68.7" stroke="#000" stroke-width="0.55"/>
<circle cx="574" cy="69.6" r="0.45" fill="#111" stroke="none" stroke-width="0.6"/>
<line x1="572.7" y1="86" x2="575.3" y2="86" stroke="#000" stroke-width="0.5"/>
<line x1="573.1" y1="86.9" x2="574.9" y2="85.1" stroke="#000" stroke-width="0.55"/>
<circle cx="574" cy="86" r="0.45" fill="#111" stroke="none" stroke-width="0.6"/>
<text x="566.4" y="34" font-size="2.3" font-weight="bold" text-anchor="middle" transform="rotate(-90 566.4 34)" stroke="#000" stroke-width="0.28">600</text>
<text x="566.4" y="55" font-size="2.3" font-weight="bold" text-anchor="middle" transform="rotate(-90 566.4 55)" stroke="#000" stroke-width="0.28">1,200</text>
<text x="572.8" y="48" font-size="2.3" font-weight="bold" text-anchor="middle" transform="rotate(-90 572.8 48)" stroke="#000" stroke-width="0.28">1,800</text>
<text x="566.4" y="75.6" font-size="2.2" font-weight="bold" text-anchor="middle" transform="rotate(-90 566.4 75.6)" stroke="#000" stroke-width="0.28">450</text>
<text x="572.8" y="78.4" font-size="2.2" font-weight="bold" text-anchor="middle" transform="rotate(-90 572.8 78.4)" stroke="#000" stroke-width="0.28">680</text>
<text x="566.4" y="84.6" font-size="1.9" font-weight="bold" text-anchor="middle" transform="rotate(-90 566.4 84.6)" stroke="#000" stroke-width="0.28">230</text>
<line x1="546.6" y1="94.4" x2="562.6" y2="94.4" stroke="#000" stroke-width="0.5"/>
<polygon points="548.6,93.2 546.4,94.2 548.6,95.2" fill="#222" stroke="#000" stroke-width="0.4"/>
<polygon points="559.4,93.2 561.6,94.2 559.4,95.2" fill="#222" stroke="#000" stroke-width="0.4"/>
<text x="554" y="93" font-size="2.3" font-weight="bold" text-anchor="middle" stroke="#000" stroke-width="0.28">600</text>
<text x="529" y="105.6" font-size="6.76" fill="#222" textLength="45.5" lengthAdjust="spacingAndGlyphs">SECTION X-X   (1: 50  )</text>
<line x1="520" y1="107.6" x2="577.6" y2="107.6" stroke="#000" stroke-width="0.5"/>
<rect x="547.6" y="183" width="21.4" height="11.6" fill="#c9c9c9" stroke="none" stroke-width="0.7"/>
<rect x="552.6" y="141.4" width="11.4" height="53" fill="url(#rh2)" stroke="#8a0c12" stroke-width="0.45"/>
<rect x="551" y="139.6" width="14.4" height="2.4" fill="#8ed49a" stroke="#223" stroke-width="0.55"/>
<rect x="547" y="194.6" width="22.6" height="5" fill="#7ed28e" stroke="#1c7a32" stroke-width="0.5"/>
<line x1="548" y1="197.1" x2="569" y2="197.1" stroke="#1c6a2c" stroke-width="1.4" stroke-dasharray="1.2 1"/>
<line x1="526" y1="183" x2="573" y2="183" stroke="#000" stroke-width="0.6"/>
<text x="527.5" y="182.2" font-size="2.3" font-weight="bold" stroke="#000" stroke-width="0.28">N.G.L</text>
<text x="566" y="182.2" font-size="2.3" font-weight="bold" stroke="#000" stroke-width="0.28">N.G.L</text>
<line x1="547.4" y1="129.3" x2="547.4" y2="205.3" stroke="#333" stroke-width="0.5" stroke-dasharray="1.8 1.1"/>
<text x="546" y="157.5" font-size="2.9" font-weight="bold" text-anchor="middle" transform="rotate(-90 546 157.5)" textLength="21" lengthAdjust="spacingAndGlyphs" stroke="#000" stroke-width="0.28">Boundary line</text>
<text x="535" y="129.6" font-size="2.2" font-weight="bold" stroke="#000" stroke-width="0.28">coping</text>
<text x="535" y="131.8" font-size="2" font-weight="bold" stroke="#000" stroke-width="0.28">detail</text>
<polyline points="542,129 555,129 555,139.8" fill="none" stroke="#000" stroke-width="0.45"/>
<line x1="534.6" y1="139" x2="534.6" y2="199.8" stroke="#000" stroke-width="0.45"/>
<line x1="539.6" y1="139" x2="539.6" y2="199.8" stroke="#000" stroke-width="0.45"/>
<line x1="533.3" y1="139.6" x2="535.9" y2="139.6" stroke="#000" stroke-width="0.5"/>
<line x1="533.7" y1="140.5" x2="535.5" y2="138.7" stroke="#000" stroke-width="0.55"/>
<circle cx="534.6" cy="139.6" r="0.45" fill="#111" stroke="none" stroke-width="0.6"/>
<line x1="533.3" y1="155.5" x2="535.9" y2="155.5" stroke="#000" stroke-width="0.5"/>
<line x1="533.7" y1="156.4" x2="535.5" y2="154.6" stroke="#000" stroke-width="0.55"/>
<circle cx="534.6" cy="155.5" r="0.45" fill="#111" stroke="none" stroke-width="0.6"/>
<line x1="533.3" y1="183" x2="535.9" y2="183" stroke="#000" stroke-width="0.5"/>
<line x1="533.7" y1="183.9" x2="535.5" y2="182.1" stroke="#000" stroke-width="0.55"/>
<circle cx="534.6" cy="183" r="0.45" fill="#111" stroke="none" stroke-width="0.6"/>
<line x1="533.3" y1="194.6" x2="535.9" y2="194.6" stroke="#000" stroke-width="0.5"/>
<line x1="533.7" y1="195.5" x2="535.5" y2="193.7" stroke="#000" stroke-width="0.55"/>
<circle cx="534.6" cy="194.6" r="0.45" fill="#111" stroke="none" stroke-width="0.6"/>
<line x1="533.3" y1="199.6" x2="535.9" y2="199.6" stroke="#000" stroke-width="0.5"/>
<line x1="533.7" y1="200.5" x2="535.5" y2="198.7" stroke="#000" stroke-width="0.55"/>
<circle cx="534.6" cy="199.6" r="0.45" fill="#111" stroke="none" stroke-width="0.6"/>
<line x1="538.3" y1="139.6" x2="540.9" y2="139.6" stroke="#000" stroke-width="0.5"/>
<line x1="538.7" y1="140.5" x2="540.5" y2="138.7" stroke="#000" stroke-width="0.55"/>
<circle cx="539.6" cy="139.6" r="0.45" fill="#111" stroke="none" stroke-width="0.6"/>
<line x1="538.3" y1="183" x2="540.9" y2="183" stroke="#000" stroke-width="0.5"/>
<line x1="538.7" y1="183.9" x2="540.5" y2="182.1" stroke="#000" stroke-width="0.55"/>
<circle cx="539.6" cy="183" r="0.45" fill="#111" stroke="none" stroke-width="0.6"/>
<line x1="538.3" y1="199.6" x2="540.9" y2="199.6" stroke="#000" stroke-width="0.5"/>
<line x1="538.7" y1="200.5" x2="540.5" y2="198.7" stroke="#000" stroke-width="0.55"/>
<circle cx="539.6" cy="199.6" r="0.45" fill="#111" stroke="none" stroke-width="0.6"/>
<text x="517.5" y="156.4" font-size="2.4" font-weight="bold" stroke="#000" stroke-width="0.28">Brick pier</text>
<line x1="529" y1="155.5" x2="550" y2="155.5" stroke="#000" stroke-width="0.4"/>
<text x="533.4" y="164" font-size="2.3" font-weight="bold" text-anchor="middle" transform="rotate(-90 533.4 164)" stroke="#000" stroke-width="0.28">1,100</text>
<text x="538.4" y="162" font-size="2.3" font-weight="bold" text-anchor="middle" transform="rotate(-90 538.4 162)" stroke="#000" stroke-width="0.28">1,800</text>
<text x="533.4" y="191" font-size="2.2" font-weight="bold" text-anchor="middle" transform="rotate(-90 533.4 191)" stroke="#000" stroke-width="0.28">750</text>
<text x="538.4" y="191" font-size="2.1" font-weight="bold" text-anchor="middle" transform="rotate(-90 538.4 191)" stroke="#000" stroke-width="0.28">230  680</text>
<line x1="547.4" y1="202" x2="569" y2="202" stroke="#000" stroke-width="0.5"/>
<polygon points="550,201 547.6,202 550,203" fill="#222" stroke="#000" stroke-width="0.4"/>
<polygon points="566.4,201 568.8,202 566.4,203" fill="#222" stroke="#000" stroke-width="0.4"/>
<text x="558" y="205.4" font-size="2.5" font-weight="bold" text-anchor="middle" stroke="#000" stroke-width="0.28">900</text>
<text x="524.5" y="219.8" font-size="6.5" fill="#222" textLength="43" lengthAdjust="spacingAndGlyphs">SECTION Y-Y   (1: 50  )</text>
<line x1="516" y1="221.4" x2="570" y2="221.4" stroke="#000" stroke-width="0.5"/>
<path d="M512 238.4H559V281Q562 294 572 300H493.6Q508 294 512 281Z" fill="url(#gh)" stroke="none" stroke-width="0.7"/>
<path d="M532 235.1q5.4-1 10.8 0q4.6 1 4.8 5.6v33q0 5.4-4.2 6.8q-6 1.4-12 0q-4.2-1.4-4.2-6.8v-33q0.2-4.6 4.8-5.6z" fill="#fff" stroke="#222" stroke-width="0.8"/>
<path d="M532.4 236.6q5-0.8 10 0q3.4 0.8 3.6 4.4v32.4q0 4.4-3.4 5.6q-5.2 1.2-10.4 0q-3.4-1.2-3.4-5.6v-32.4q0.2-3.6 3.6-4.4z" fill="none" stroke="#333" stroke-width="0.45"/>
<rect x="530.6" y="246.6" width="13.4" height="17.8" fill="#fff" stroke="#222" stroke-width="0.7"/>
<path d="M530.6 246.6l-1-6.4q7.8-2.4 15.4 0l-1 6.4" fill="none" stroke="#222" stroke-width="0.6"/>
<path d="M530.6 264.4l-1.8 5q8.6 2.6 17 0l-1.8-5" fill="none" stroke="#222" stroke-width="0.6"/>
<path d="M528.8 247v16M545.8 247v16" fill="none" stroke="#222" stroke-width="0.5"/>
<path d="M527.4 265l-1.8-0.8M547.2 265l1.8-0.8" fill="none" stroke="#222" stroke-width="0.8"/>
<path d="M531 273.6q6.2 1.6 12.6 0" fill="none" stroke="#333" stroke-width="0.45"/>
<line x1="512.6" y1="282.1" x2="558" y2="282.1" stroke="#555" stroke-width="0.45" stroke-dasharray="1.8 1.2"/>
<line x1="452.7" y1="269.5" x2="452.7" y2="282.2" stroke="#333" stroke-width="0.4"/>
<line x1="452.7" y1="282" x2="510.5" y2="282" stroke="#333" stroke-width="0.5" stroke-dasharray="1.8 1.2"/>
<line x1="452.7" y1="269.6" x2="459.5" y2="269.6" stroke="#333" stroke-width="0.4" stroke-dasharray="1.8 1.2"/>
<text x="450.6" y="277" font-size="2.3" font-weight="bold" text-anchor="middle" transform="rotate(-90 450.6 277)" stroke="#000" stroke-width="0.28">460</text>
<line x1="557.6" y1="282" x2="590" y2="282" stroke="#333" stroke-width="0.5" stroke-dasharray="1.8 1.2"/>
<line x1="589.6" y1="269.5" x2="589.6" y2="282" stroke="#333" stroke-width="0.4" stroke-dasharray="1.8 1.2"/>
<rect x="455.7" y="274" width="57.8" height="5.2" fill="url(#xh)" stroke="#8a0c12" stroke-width="0.5"/>
<rect x="559" y="274" width="28" height="5.2" fill="url(#xh)" stroke="#8a0c12" stroke-width="0.5"/>
<rect x="455.7" y="270" width="3.8" height="10" fill="url(#xh)" stroke="#6a0a0e" stroke-width="0.6"/>
<rect x="478" y="274" width="5.5" height="6" fill="url(#xh)" stroke="#6a0a0e" stroke-width="0.6"/>
<rect x="504.5" y="274" width="4.5" height="6" fill="url(#xh)" stroke="#6a0a0e" stroke-width="0.6"/>
<rect x="583" y="270.4" width="4" height="9.6" fill="url(#xh)" stroke="#6a0a0e" stroke-width="0.6"/>
<rect x="461.6" y="274.6" width="1.2" height="4" fill="#222" stroke="none" stroke-width="0.7"/>
<rect x="464" y="274.6" width="1.2" height="4" fill="#222" stroke="none" stroke-width="0.7"/>
<rect x="479" y="274.6" width="1.2" height="4" fill="#222" stroke="none" stroke-width="0.7"/>
<rect x="481.6" y="274.6" width="1.2" height="4" fill="#222" stroke="none" stroke-width="0.7"/>
<rect x="488.6" y="274.6" width="1.2" height="4" fill="#222" stroke="none" stroke-width="0.7"/>
<rect x="491.4" y="274.6" width="1.2" height="4" fill="#222" stroke="none" stroke-width="0.7"/>
<rect x="505" y="274.6" width="1.2" height="4" fill="#222" stroke="none" stroke-width="0.7"/>
<rect x="507.4" y="274.6" width="1.2" height="4" fill="#222" stroke="none" stroke-width="0.7"/>
<rect x="571.6" y="274.6" width="1.2" height="4" fill="#222" stroke="none" stroke-width="0.7"/>
<rect x="574.4" y="274.6" width="1.2" height="4" fill="#222" stroke="none" stroke-width="0.7"/>
<line x1="477.5" y1="272.7" x2="523.2" y2="272.7" stroke="#2a35e6" stroke-width="2"/>
<text x="456.5" y="258" font-size="2.2" font-weight="bold" fill="#222" textLength="36.7" lengthAdjust="spacingAndGlyphs" stroke="#222" stroke-width="0.05">25mm expansion joint filled with mastic</text>
<line x1="469.2" y1="258.7" x2="457.2" y2="272.5" stroke="#000" stroke-width="0.5"/>
<line x1="469.2" y1="258.7" x2="483.5" y2="274" stroke="#000" stroke-width="0.5"/>
<text x="560" y="258" font-size="2.2" font-weight="bold" fill="#222" textLength="34" lengthAdjust="spacingAndGlyphs" stroke="#222" stroke-width="0.05">25mm expansion joint filled with mastic</text>
<line x1="582.6" y1="258.8" x2="578.6" y2="273" stroke="#000" stroke-width="0.5"/>
<text x="497" y="270.8" font-size="2.3" font-weight="bold" textLength="28.5" lengthAdjust="spacingAndGlyphs" stroke="#000" stroke-width="0.05">2m Sliding gate to detail</text>
<text x="461.7" y="286" font-size="2.1" font-weight="bold" textLength="23.3" lengthAdjust="spacingAndGlyphs" stroke="#000" stroke-width="0.05">NGL 230 brick boundary wall</text>
<text x="556.6" y="286" font-size="2.1" font-weight="bold" textLength="23.3" lengthAdjust="spacingAndGlyphs" stroke="#000" stroke-width="0.05">NGL 230 brick boundary wall</text>
<line x1="461" y1="280" x2="463" y2="284" stroke="#000" stroke-width="0.4"/>
<line x1="478" y1="280" x2="476" y2="284" stroke="#000" stroke-width="0.4"/>
<text x="484.6" y="268.8" font-size="8.2" fill="#222">X</text>
<text x="486.2" y="294.4" font-size="8.2" fill="#222">X</text>
<line x1="494.7" y1="266.4" x2="494.7" y2="288" stroke="#000" stroke-width="0.5"/>
<polyline points="494.7,266.4 490.4,268.4 494.7,270.2" fill="none" stroke="#000" stroke-width="0.5"/>
<polyline points="494.7,284.6 490.4,286.4 494.7,288" fill="none" stroke="#000" stroke-width="0.5"/>
<line x1="489.6" y1="268.2" x2="490.4" y2="268.4" stroke="#000" stroke-width="0.5"/>
<line x1="486.6" y1="282.4" x2="494.7" y2="272.6" stroke="#000" stroke-width="0.45"/>
<line x1="490" y1="286.6" x2="494.7" y2="288" stroke="#000" stroke-width="0.4"/>
<line x1="450" y1="302.8" x2="590" y2="302.8" stroke="#000" stroke-width="0.5"/>
<line x1="455" y1="301.5" x2="455" y2="304.1" stroke="#000" stroke-width="0.5"/>
<line x1="454.1" y1="303.7" x2="455.9" y2="301.9" stroke="#000" stroke-width="0.55"/>
<circle cx="455" cy="302.8" r="0.45" fill="#111" stroke="none" stroke-width="0.6"/>
<line x1="460.2" y1="301.5" x2="460.2" y2="304.1" stroke="#000" stroke-width="0.5"/>
<line x1="459.3" y1="303.7" x2="461.1" y2="301.9" stroke="#000" stroke-width="0.55"/>
<circle cx="460.2" cy="302.8" r="0.45" fill="#111" stroke="none" stroke-width="0.6"/>
<line x1="476" y1="301.5" x2="476" y2="304.1" stroke="#000" stroke-width="0.5"/>
<line x1="475.1" y1="303.7" x2="476.9" y2="301.9" stroke="#000" stroke-width="0.55"/>
<circle cx="476" cy="302.8" r="0.45" fill="#111" stroke="none" stroke-width="0.6"/>
<line x1="481.2" y1="301.5" x2="481.2" y2="304.1" stroke="#000" stroke-width="0.5"/>
<line x1="480.3" y1="303.7" x2="482.1" y2="301.9" stroke="#000" stroke-width="0.55"/>
<circle cx="481.2" cy="302.8" r="0.45" fill="#111" stroke="none" stroke-width="0.6"/>
<line x1="502" y1="301.5" x2="502" y2="304.1" stroke="#000" stroke-width="0.5"/>
<line x1="501.1" y1="303.7" x2="502.9" y2="301.9" stroke="#000" stroke-width="0.55"/>
<circle cx="502" cy="302.8" r="0.45" fill="#111" stroke="none" stroke-width="0.6"/>
<line x1="507" y1="301.5" x2="507" y2="304.1" stroke="#000" stroke-width="0.5"/>
<line x1="506.1" y1="303.7" x2="507.9" y2="301.9" stroke="#000" stroke-width="0.55"/>
<circle cx="507" cy="302.8" r="0.45" fill="#111" stroke="none" stroke-width="0.6"/>
<line x1="559" y1="301.5" x2="559" y2="304.1" stroke="#000" stroke-width="0.5"/>
<line x1="558.1" y1="303.7" x2="559.9" y2="301.9" stroke="#000" stroke-width="0.55"/>
<circle cx="559" cy="302.8" r="0.45" fill="#111" stroke="none" stroke-width="0.6"/>
<line x1="564" y1="301.5" x2="564" y2="304.1" stroke="#000" stroke-width="0.5"/>
<line x1="563.1" y1="303.7" x2="564.9" y2="301.9" stroke="#000" stroke-width="0.55"/>
<circle cx="564" cy="302.8" r="0.45" fill="#111" stroke="none" stroke-width="0.6"/>
<line x1="581.6" y1="301.5" x2="581.6" y2="304.1" stroke="#000" stroke-width="0.5"/>
<line x1="580.7" y1="303.7" x2="582.5" y2="301.9" stroke="#000" stroke-width="0.55"/>
<circle cx="581.6" cy="302.8" r="0.45" fill="#111" stroke="none" stroke-width="0.6"/>
<line x1="586.6" y1="301.5" x2="586.6" y2="304.1" stroke="#000" stroke-width="0.5"/>
<line x1="585.7" y1="303.7" x2="587.5" y2="301.9" stroke="#000" stroke-width="0.55"/>
<circle cx="586.6" cy="302.8" r="0.45" fill="#111" stroke="none" stroke-width="0.6"/>
<text x="452.4" y="302" font-size="2.6" font-weight="bold" text-anchor="middle" stroke="#000" stroke-width="0.12">460</text>
<text x="468.5" y="302" font-size="2.6" font-weight="bold" text-anchor="middle" stroke="#000" stroke-width="0.12">1,870</text>
<text x="478.4" y="302" font-size="2.6" font-weight="bold" text-anchor="middle" stroke="#000" stroke-width="0.12">460</text>
<text x="494" y="302" font-size="2.6" font-weight="bold" text-anchor="middle" stroke="#000" stroke-width="0.12">1,870</text>
<text x="505.2" y="302" font-size="2.6" font-weight="bold" text-anchor="middle" stroke="#000" stroke-width="0.12">460</text>
<text x="534" y="302" font-size="2.6" font-weight="bold" text-anchor="middle" stroke="#000" stroke-width="0.12">4,500</text>
<text x="561.6" y="302" font-size="2.6" font-weight="bold" text-anchor="middle" stroke="#000" stroke-width="0.12">460</text>
<text x="573" y="302" font-size="2.6" font-weight="bold" text-anchor="middle" stroke="#000" stroke-width="0.12">1,500</text>
<text x="589.4" y="302" font-size="2.6" font-weight="bold" text-anchor="middle" stroke="#000" stroke-width="0.12">460</text>
<line x1="455" y1="307.7" x2="587" y2="307.7" stroke="#000" stroke-width="0.5"/>
<line x1="455" y1="306.4" x2="455" y2="309" stroke="#000" stroke-width="0.5"/>
<line x1="454.1" y1="308.6" x2="455.9" y2="306.8" stroke="#000" stroke-width="0.55"/>
<circle cx="455" cy="307.7" r="0.45" fill="#111" stroke="none" stroke-width="0.6"/>
<line x1="586.6" y1="306.4" x2="586.6" y2="309" stroke="#000" stroke-width="0.5"/>
<line x1="585.7" y1="308.6" x2="587.5" y2="306.8" stroke="#000" stroke-width="0.55"/>
<circle cx="586.6" cy="307.7" r="0.45" fill="#111" stroke="none" stroke-width="0.6"/>
<text x="520.6" y="307" font-size="2.7" font-weight="bold" text-anchor="middle" stroke="#000" stroke-width="0.12">11,540</text>
<text x="474" y="316.8" font-size="5.98" fill="#222" textLength="80.6" lengthAdjust="spacingAndGlyphs">TYPICAL FRONT FLOOR PLAN   (1  :100)</text>
<line x1="472" y1="318.4" x2="556" y2="318.4" stroke="#000" stroke-width="0.5"/>
</svg>
</body></html>
